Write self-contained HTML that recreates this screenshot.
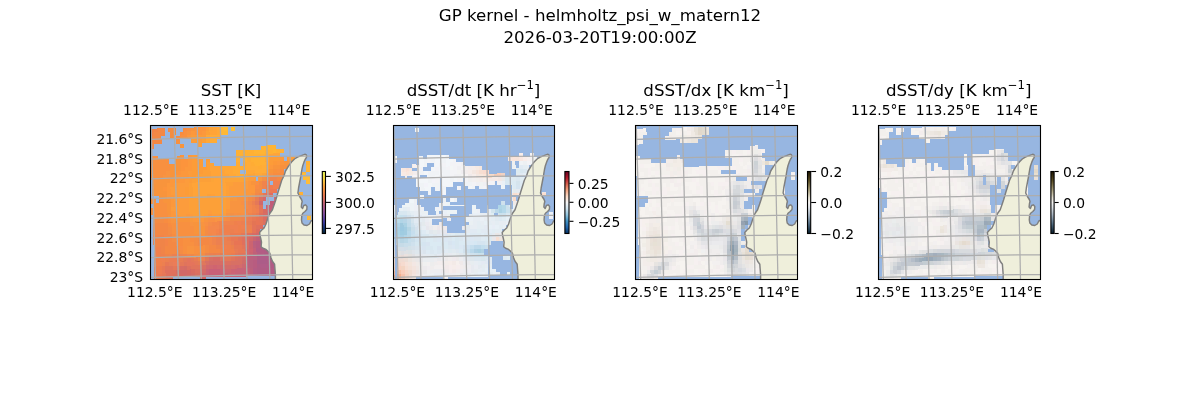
<!DOCTYPE html>
<html><head><meta charset="utf-8"><title>GP kernel - helmholtz_psi_w_matern12</title>
<style>html,body{margin:0;padding:0;background:#fff;overflow:hidden}svg{display:block}</style></head>
<body>
<svg width="1200" height="400" viewBox="0 0 1200 400" font-family="'DejaVu Sans','Liberation Sans',sans-serif" fill="#000">
<rect width="1200" height="400" fill="#fff"/>
<text x="600" y="20.8" font-size="16.67" text-anchor="middle" >GP kernel - helmholtz_psi_w_matern12</text>
<text x="600" y="42.5" font-size="16.67" text-anchor="middle" >2026-03-20T19:00:00Z</text>
<defs>
<clipPath id="c0"><rect x="150.5" y="125.5" width="162.0" height="154.0"/></clipPath>
<clipPath id="c1"><rect x="393.5" y="125.5" width="161.0" height="154.0"/></clipPath>
<clipPath id="c2"><rect x="635.5" y="125.5" width="162.0" height="154.0"/></clipPath>
<clipPath id="c3"><rect x="878.5" y="125.5" width="162.0" height="154.0"/></clipPath>
<linearGradient id="cb0" x1="0" y1="0" x2="0" y2="1"><stop offset="0" stop-color="#e8fa5b"/><stop offset="0.12" stop-color="#f9d441"/><stop offset="0.25" stop-color="#fb9d3c"/><stop offset="0.4" stop-color="#e7744f"/><stop offset="0.55" stop-color="#b45c82"/><stop offset="0.7" stop-color="#7a4d9f"/><stop offset="0.82" stop-color="#3e3a9e"/><stop offset="0.92" stop-color="#10316c"/><stop offset="1" stop-color="#042333"/></linearGradient><linearGradient id="cb1" x1="0" y1="0" x2="0" y2="1"><stop offset="0" stop-color="#67001f"/><stop offset="0.1" stop-color="#b2182b"/><stop offset="0.2" stop-color="#d6604d"/><stop offset="0.3" stop-color="#f4a582"/><stop offset="0.4" stop-color="#fddbc7"/><stop offset="0.5" stop-color="#f7f7f7"/><stop offset="0.6" stop-color="#d1e5f0"/><stop offset="0.7" stop-color="#92c5de"/><stop offset="0.8" stop-color="#4393c3"/><stop offset="0.9" stop-color="#2166ac"/><stop offset="1" stop-color="#053061"/></linearGradient><linearGradient id="cb2" x1="0" y1="0" x2="0" y2="1"><stop offset="0" stop-color="#1c1400"/><stop offset="0.15" stop-color="#5c4f25"/><stop offset="0.3" stop-color="#a89f7c"/><stop offset="0.42" stop-color="#e3dfd0"/><stop offset="0.5" stop-color="#f6f4f2"/><stop offset="0.58" stop-color="#dfe3e8"/><stop offset="0.7" stop-color="#a6b3c0"/><stop offset="0.85" stop-color="#4f6a80"/><stop offset="1" stop-color="#071d2c"/></linearGradient><linearGradient id="cb3" x1="0" y1="0" x2="0" y2="1"><stop offset="0" stop-color="#1c1400"/><stop offset="0.15" stop-color="#5c4f25"/><stop offset="0.3" stop-color="#a89f7c"/><stop offset="0.42" stop-color="#e3dfd0"/><stop offset="0.5" stop-color="#f6f4f2"/><stop offset="0.58" stop-color="#dfe3e8"/><stop offset="0.7" stop-color="#a6b3c0"/><stop offset="0.85" stop-color="#4f6a80"/><stop offset="1" stop-color="#071d2c"/></linearGradient>
</defs>
<g clip-path="url(#c0)">
<rect x="150.5" y="125.5" width="162.0" height="154.0" fill="#97b6e1"/>
<g shape-rendering="crispEdges"><path fill="#f8943c" d="M194 127h1v4h-1zM191 128h3v3h-3zM180 144h4v4h-4zM180 155h1v16h-1zM177 156h3v15h-3zM175 159h2v16h-2zM284 161h4v4h-4zM170 164h5v11h-5zM273 165h7v4h-7zM269 169h4v4h-4zM170 175h4v4h-4zM161 179h9v4h-9zM156 180h5v16h-5zM251 181h4v4h-4zM161 183h6v4h-6zM150 184h1v16h-1zM152 184h4v12h-4zM161 187h2v12h-2zM163 191h4v11h-4zM159 196h2v3h-2zM151 198h8v1h-8zM151 199h2v1h-2zM167 199h4v14h-4zM164 202h3v1h-3zM168 213h3v2h-3zM178 218h12v4h-12zM175 219h3v3h-3zM175 222h1v1h-1zM193 222h8v3h-8zM194 225h7v9h-7zM201 226h4v8h-4z"/><path fill="#fc943c" d="M195 127h2v8h-2zM198 127h8v4h-8zM198 131h4v4h-4zM181 155h3v16h-3zM184 159h4v8h-4zM280 161h4v4h-4zM184 167h1v4h-1zM177 171h4v4h-4zM163 187h4v4h-4z"/><path fill="#fc9c38" d="M206 127h3v4h-3zM191 135h6v8h-6zM198 135h8v4h-8zM198 139h4v4h-4zM198 143h1v4h-1zM192 155h6v20h-6zM269 157h11v4h-11zM198 159h5v15h-5zM206 159h4v3h-4zM269 161h4v4h-4zM206 162h1v8h-1zM203 167h3v3h-3zM198 174h2v1h-2zM192 175h4v4h-4zM189 179h3v4h-3zM185 187h4v8h-4zM222 213h1v4h-1zM219 214h3v3h-3zM219 217h1v1h-1z"/><path fill="#fca438" d="M209 127h4v4h-4zM210 163h4v3h-4zM266 165h3v4h-3zM253 173h2v4h-2zM262 173h4v4h-4zM247 174h6v3h-6zM247 177h2v1h-2zM211 178h3v4h-3zM225 178h19v4h-19z"/><path fill="#ffa438" d="M213 127h4v8h-4zM209 131h4v1h-4zM210 132h3v3h-3zM273 153h7v4h-7zM269 154h4v3h-4zM265 161h4v1h-4zM266 162h3v3h-3zM210 166h11v5h-11zM221 170h4v28h-4zM211 171h10v7h-10zM225 174h4v4h-4zM214 178h7v16h-7zM196 182h18v12h-18zM192 183h4v4h-4zM225 183h1v15h-1zM193 187h3v11h-3zM196 194h11v4h-11zM215 194h6v4h-6z"/><path fill="#ffa838" d="M217 127h3v8h-3zM206 135h4v8h-4zM268 157h1v4h-1zM265 158h3v3h-3zM221 166h11v4h-11zM232 168h1v10h-1zM225 170h7v4h-7zM247 170h8v3h-8zM247 173h6v1h-6zM255 173h7v4h-7zM229 174h3v4h-3zM233 174h3v4h-3zM244 174h3v4h-3z"/><path fill="#ffb838" d="M221 127h3v8h-3zM224 134h4v1h-4zM302 173h1v2h-1z"/><path fill="#ffbc34" d="M224 127h4v3h-4zM224 130h3v1h-3zM231 130h1v1h-1z"/><path fill="#ffc034" d="M231 127h4v3h-4zM232 130h3v1h-3z"/><path fill="#f48444" d="M157 128h1v4h-1zM154 129h3v3h-3z"/><path fill="#f48844" d="M158 128h7v8h-7zM168 128h1v4h-1zM154 132h4v12h-4zM151 136h3v13h-3zM158 136h3v8h-3zM161 139h1v5h-1zM277 177h4v4h-4zM150 223h1v12h-1zM153 223h15v12h-15zM170 234h2v20h-2zM168 235h2v19h-2zM207 237h2v8h-2zM198 238h9v7h-9zM172 242h4v12h-4zM198 245h5v1h-5zM209 245h7v8h-7zM165 246h3v8h-3zM176 246h3v4h-3zM216 249h4v4h-4z"/><path fill="#f48c40" d="M169 128h7v4h-7zM170 132h6v3h-6zM170 135h4v1h-4zM170 136h3v2h-3z"/><path fill="#f88c40" d="M183 128h4v3h-4zM183 131h1v4h-1zM180 132h3v3h-3zM180 135h1v1h-1zM173 136h1v2h-1zM176 136h4v3h-4zM176 139h3v1h-3zM280 169h4v8h-4zM273 173h7v4h-7zM284 173h4v4h-4zM150 215h1v4h-1zM164 219h4v4h-4zM168 223h3v4h-3zM171 225h1v2h-1zM172 234h3v4h-3zM175 237h1v1h-1zM176 238h7v4h-7zM190 238h4v4h-4zM179 242h4v4h-4z"/><path fill="#f89040" d="M187 128h4v3h-4zM184 131h3v8h-3zM181 135h3v4h-3zM180 136h1v3h-1zM187 137h1v2h-1zM179 139h1v5h-1zM176 140h3v4h-3zM152 156h6v24h-6zM151 159h1v21h-1zM158 159h11v12h-11zM169 164h1v7h-1zM150 165h1v15h-1zM284 165h4v4h-4zM277 169h3v4h-3zM287 169h4v4h-4zM158 171h8v4h-8zM288 173h4v8h-4zM158 175h5v4h-5zM158 179h3v1h-3zM153 199h3v5h-3zM159 199h4v20h-4zM150 200h3v4h-3zM163 202h1v17h-1zM156 203h3v16h-3zM164 203h3v16h-3zM150 204h1v11h-1zM154 204h2v15h-2zM151 208h3v7h-3zM167 213h1v6h-1zM237 213h4v4h-4zM153 215h1v4h-1zM168 219h3v4h-3zM176 222h14v16h-14zM171 223h5v2h-5zM172 225h4v9h-4zM190 226h4v12h-4zM175 234h1v3h-1zM194 234h11v4h-11zM183 238h7v8h-7zM190 242h4v4h-4zM203 245h2v8h-2zM183 246h4v8h-4zM194 246h9v7h-9zM194 253h4v1h-4z"/><path fill="#f08448" d="M151 129h3v3h-3zM150 239h1v4h-1zM153 239h12v4h-12zM154 243h11v4h-11zM216 245h4v4h-4zM161 247h4v7h-4zM165 254h4v4h-4z"/><path fill="#ffb834" d="M227 130h1v4h-1zM224 131h3v3h-3zM307 216h4v4h-4z"/><path fill="#f89440" d="M187 131h4v4h-4zM288 165h3v4h-3zM166 171h4v8h-4zM163 175h3v4h-3zM150 180h1v4h-1zM152 180h4v4h-4zM251 193h4v1h-4zM252 194h3v3h-3zM237 197h7v4h-7zM230 201h11v12h-11zM241 205h3v8h-3zM244 209h1v4h-1zM226 213h4v4h-4zM168 215h3v4h-3zM204 218h4v4h-4zM171 219h4v4h-4zM190 222h3v4h-3zM201 222h3v4h-3zM204 224h1v2h-1zM193 225h1v1h-1zM187 246h7v8h-7z"/><path fill="#fc983c" d="M191 131h4v4h-4zM202 131h4v4h-4zM187 135h4v2h-4zM188 137h3v2h-3zM188 155h4v16h-4zM280 157h4v4h-4zM287 158h1v3h-1zM277 161h3v4h-3zM269 165h4v4h-4zM185 167h3v12h-3zM181 171h4v12h-4zM188 174h1v5h-1zM174 175h7v8h-7zM170 179h4v8h-4zM248 181h3v16h-3zM167 183h3v16h-3zM251 185h4v8h-4zM170 189h1v10h-1zM244 189h4v8h-4zM251 194h1v3h-1zM171 195h3v12h-3zM174 201h1v6h-1zM226 209h4v4h-4zM171 211h4v8h-4zM186 214h4v4h-4zM208 214h4v4h-4zM175 215h4v3h-4zM175 218h3v1h-3zM193 218h11v4h-11z"/><path fill="#fca038" d="M206 131h3v4h-3zM209 132h1v3h-1zM202 139h4v4h-4zM199 143h3v4h-3zM207 162h3v20h-3zM266 169h3v4h-3zM203 170h4v12h-4zM210 171h1v11h-1zM200 174h3v8h-3zM196 175h4v7h-4zM192 179h4v4h-4zM225 182h8v1h-8zM189 183h3v29h-3zM226 183h7v3h-7zM192 187h1v27h-1zM226 190h3v8h-3zM207 194h4v16h-4zM229 196h1v2h-1zM193 198h14v16h-14zM211 198h15v13h-15zM207 210h1v4h-1zM212 211h14v2h-14zM190 212h2v2h-2zM212 213h10v1h-10zM193 214h11v4h-11z"/><path fill="#f48448" d="M151 132h3v4h-3zM150 235h1v4h-1zM153 235h11v4h-11zM164 237h1v2h-1zM165 239h3v7h-3z"/><path fill="#ffac38" d="M210 135h10v4h-10zM210 139h7v4h-7zM265 154h4v3h-4zM265 157h3v1h-3zM247 162h4v8h-4zM262 165h4v8h-4zM244 166h3v4h-3zM251 166h7v4h-7zM258 169h4v4h-4zM233 170h7v4h-7zM246 170h1v4h-1zM255 170h3v3h-3zM236 174h8v4h-8z"/><path fill="#ffb434" d="M266 145h10v5h-10zM261 146h5v4h-5zM276 149h2v1h-2zM254 150h11v4h-11zM273 150h3v3h-3zM306 165h4v7h-4zM303 172h3v1h-3z"/><path fill="#ffb034" d="M278 149h2v4h-2zM236 150h18v8h-18zM265 150h8v4h-8zM276 150h2v3h-2zM254 154h11v10h-11zM236 158h4v4h-4zM243 158h4v4h-4zM251 158h3v4h-3zM306 161h4v4h-4zM265 162h1v3h-1zM255 164h10v1h-10zM255 165h5v1h-5zM299 192h4v3h-4z"/><path fill="#ffb038" d="M280 149h4v4h-4z"/><path fill="#fc9c3c" d="M287 157h4v1h-4zM288 158h3v3h-3zM291 165h3v4h-3zM188 171h4v3h-4zM189 174h3v5h-3zM249 177h6v4h-6zM247 178h2v2h-2zM185 179h4v8h-4zM248 180h1v1h-1zM246 181h2v8h-2zM233 182h13v7h-13zM174 183h11v18h-11zM229 186h4v10h-4zM170 187h4v2h-4zM171 189h3v6h-3zM233 189h11v8h-11zM185 195h4v19h-4zM230 196h3v2h-3zM226 198h4v11h-4zM175 201h10v14h-10zM171 207h4v4h-4zM208 210h3v4h-3zM211 211h1v3h-1zM189 212h1v2h-1zM223 213h3v4h-3zM185 214h1v4h-1zM190 214h3v4h-3zM204 214h4v4h-4zM212 214h7v4h-7zM179 215h6v3h-6z"/><path fill="#fca03c" d="M291 157h4v8h-4zM292 177h2v4h-2zM244 178h3v3h-3zM247 180h1v1h-1zM244 181h2v1h-2z"/><path fill="#ffac34" d="M247 158h4v4h-4zM236 162h4v8h-4zM243 162h4v4h-4zM251 162h3v4h-3zM254 164h1v2h-1zM260 165h2v4h-2zM232 166h4v2h-4zM240 166h4v4h-4zM258 166h2v3h-2zM233 168h3v2h-3z"/><path fill="#fc9838" d="M273 161h4v4h-4z"/><path fill="#f8983c" d="M288 161h3v4h-3zM230 198h3v3h-3zM190 218h3v4h-3z"/><path fill="#f8903c" d="M280 165h4v4h-4zM273 169h4v4h-4z"/><path fill="#f89c3c" d="M291 169h3v4h-3zM292 173h2v4h-2z"/><path fill="#ffb438" d="M302 172h1v1h-1zM304 227h12v1h-12z"/><path fill="#f89840" d="M266 173h3v4h-3zM269 176h1v1h-1zM258 177h4v1h-4zM259 178h3v3h-3zM233 197h4v4h-4z"/><path fill="#f89044" d="M269 173h4v3h-4zM270 176h3v1h-3zM255 181h4v4h-4zM244 197h4v4h-4zM241 201h3v4h-3zM234 213h3v4h-3zM241 213h4v4h-4zM208 218h7v4h-7zM204 222h4v2h-4zM205 224h3v2h-3z"/><path fill="#ffbc38" d="M303 173h3v2h-3zM303 176h7v4h-7zM306 180h4v4h-4z"/><path fill="#f89c40" d="M255 177h1v4h-1zM258 178h1v3h-1z"/><path fill="#f49044" d="M262 177h4v4h-4zM230 213h4v4h-4zM223 217h3v4h-3z"/><path fill="#f48848" d="M266 177h4v4h-4zM255 193h4v4h-4zM245 209h3v4h-3zM217 221h2v4h-2zM212 222h5v3h-5zM212 225h3v1h-3zM210 233h2v12h-2zM208 234h2v3h-2zM164 235h4v2h-4zM165 237h3v2h-3zM209 237h1v8h-1z"/><path fill="#f0844c" d="M270 177h7v4h-7zM262 181h4v8h-4zM281 181h3v4h-3zM259 193h4v4h-4zM252 205h3v8h-3zM255 208h1v5h-1zM248 213h4v4h-4zM241 217h4v4h-4zM219 221h15v4h-15zM219 225h4v4h-4zM216 233h3v4h-3zM212 237h4v8h-4zM150 243h1v4h-1zM153 243h1v2h-1zM220 249h3v4h-3zM223 251h1v2h-1zM169 254h3v4h-3zM183 254h4v4h-4z"/><path fill="#f48c44" d="M281 177h7v4h-7zM259 181h3v12h-3zM255 189h4v4h-4zM248 197h4v4h-4zM150 219h1v4h-1zM153 219h11v4h-11zM168 227h4v7h-4zM205 230h3v7h-3zM168 234h2v1h-2zM205 237h2v1h-2zM172 238h4v4h-4zM194 238h4v8h-4zM176 242h3v4h-3zM205 245h4v8h-4zM180 250h3v4h-3zM202 253h3v4h-3zM194 254h4v3h-4zM194 257h2v1h-2z"/><path fill="#f08050" d="M266 181h4v4h-4zM273 181h8v8h-8zM281 185h3v4h-3zM256 209h3v4h-3zM237 221h4v2h-4zM238 223h3v2h-3zM230 225h8v4h-8zM241 225h4v4h-4zM234 229h4v4h-4zM219 233h11v4h-11zM220 245h7v4h-7zM161 258h4v3h-4zM162 261h3v1h-3z"/><path fill="#f48c48" d="M284 181h4v4h-4zM244 201h4v8h-4zM226 217h4v4h-4zM208 222h4v4h-4z"/><path fill="#f49444" d="M288 181h4v8h-4z"/><path fill="#fca43c" d="M292 181h2v16h-2z"/><path fill="#f88c44" d="M255 185h4v4h-4zM205 226h3v4h-3zM179 246h4v4h-4z"/><path fill="#ec7c50" d="M266 185h4v4h-4zM245 221h3v4h-3zM248 223h1v2h-1zM230 233h11v4h-11zM227 237h4v4h-4zM231 253h4v4h-4zM156 266h6v4h-6zM150 267h1v12h-1zM154 267h2v7h-2zM156 270h2v4h-2z"/><path fill="#f07c50" d="M270 185h3v4h-3z"/><path fill="#f0884c" d="M284 185h4v4h-4zM252 197h3v4h-3zM248 201h4v4h-4zM187 254h4v4h-4z"/><path fill="#ffa038" d="M226 186h3v4h-3zM211 194h4v4h-4z"/><path fill="#ec7c54" d="M266 189h4v4h-4zM280 189h4v4h-4zM284 190h1v3h-1zM248 217h4v4h-4zM169 258h11v4h-11zM158 270h4v4h-4zM154 274h4v5h-4z"/><path fill="#ec7854" d="M270 189h7v4h-7zM158 274h4v4h-4z"/><path fill="#ec8450" d="M284 189h4v1h-4zM285 190h3v3h-3zM180 254h3v4h-3z"/><path fill="#f49448" d="M288 189h4v4h-4z"/><path fill="#e47858" d="M263 193h3v4h-3zM255 201h4v4h-4zM241 233h4v4h-4zM235 253h3v4h-3zM224 257h7v4h-7zM183 258h4v4h-4zM191 258h3v4h-3zM194 261h4v2h-4zM180 262h4v4h-4zM195 263h3v2h-3zM173 266h3v4h-3zM162 274h4v5h-4z"/><path fill="#e07060" d="M266 193h4v4h-4zM278 193h3v4h-3z"/><path fill="#e06c60" d="M270 193h3v4h-3z"/><path fill="#e0785c" d="M281 193h4v4h-4zM285 197h3v4h-3zM202 261h3v4h-3zM205 263h1v2h-1z"/><path fill="#e88054" d="M285 193h3v4h-3z"/><path fill="#f09048" d="M288 193h4v4h-4z"/><path fill="#e87c54" d="M255 197h4v4h-4zM256 213h3v4h-3zM248 221h4v2h-4zM249 223h3v2h-3zM231 241h3v4h-3zM234 249h4v2h-4zM235 251h3v2h-3zM196 257h2v4h-2zM180 258h3v4h-3zM194 258h2v3h-2z"/><path fill="#dc7060" d="M259 197h4v4h-4zM263 221h4v4h-4zM249 233h3v4h-3zM235 257h3v4h-3zM224 261h7v4h-7zM187 266h4v3h-4zM187 269h3v1h-3zM195 269h7v4h-7z"/><path fill="#d4686c" d="M263 197h3v4h-3zM274 197h3v4h-3zM245 249h4v2h-4zM246 251h3v5h-3zM246 256h1v1h-1zM206 265h3v4h-3zM235 265h4v3h-4zM235 268h2v1h-2z"/><path fill="#d46868" d="M277 197h4v4h-4zM265 225h2v4h-2zM263 227h2v2h-2zM256 233h4v4h-4zM249 237h4v4h-4z"/><path fill="#d87064" d="M281 197h4v4h-4zM285 205h4v8h-4zM209 257h4v4h-4zM238 257h4v7h-4zM205 261h4v2h-4zM231 261h7v4h-7zM206 263h3v2h-3zM238 264h2v1h-2zM202 265h4v4h-4zM198 273h4v3h-4zM199 276h3v1h-3z"/><path fill="#ec8c4c" d="M288 197h4v4h-4z"/><path fill="#f8a040" d="M292 197h2v4h-2z"/><path fill="#ec8050" d="M252 201h3v4h-3zM255 205h4v3h-4zM256 208h3v1h-3zM252 213h4v4h-4zM245 217h3v4h-3zM241 221h4v4h-4zM245 225h7v4h-7zM230 229h4v4h-4zM241 229h8v4h-8zM216 237h11v8h-11zM227 241h4v4h-4zM209 253h4v4h-4zM216 253h4v4h-4zM224 253h3v4h-3zM172 254h8v4h-8zM202 257h3v4h-3zM165 258h4v4h-4zM162 262h3v4h-3zM150 263h1v4h-1z"/><path fill="#d0686c" d="M259 201h4v4h-4zM281 201h4v16h-4zM267 217h3v4h-3zM278 217h3v7h-3zM270 221h8v1h-8zM271 222h7v6h-7zM281 222h1v2h-1zM278 224h1v1h-1zM271 228h3v1h-3zM278 228h4v4h-4zM220 265h4v4h-4zM202 273h4v6h-4z"/><path fill="#c05c78" d="M270 201h4v4h-4z"/><path fill="#c46078" d="M274 201h3v8h-3zM277 206h1v3h-1zM270 209h4v4h-4zM253 248h3v4h-3zM246 268h4v4h-4z"/><path fill="#c86470" d="M277 201h4v4h-4zM271 232h7v4h-7zM253 237h3v4h-3z"/><path fill="#dc7460" d="M285 201h3v4h-3zM220 257h4v4h-4z"/><path fill="#e88854" d="M288 201h4v4h-4z"/><path fill="#f49c44" d="M292 201h2v4h-2z"/><path fill="#f4884c" d="M248 205h4v8h-4zM245 213h3v4h-3zM215 225h4v4h-4zM208 226h7v7h-7zM215 229h1v8h-1zM208 233h2v1h-2zM212 233h3v4h-3z"/><path fill="#e0745c" d="M259 205h4v4h-4zM242 253h4v4h-4zM231 257h4v4h-4zM184 262h3v4h-3zM192 265h10v4h-10zM165 266h8v4h-8zM191 266h1v3h-1zM166 278h3v1h-3z"/><path fill="#c86074" d="M266 205h4v2h-4zM277 205h4v1h-4zM278 206h3v3h-3zM267 207h3v10h-3zM274 209h4v8h-4zM270 213h4v4h-4z"/><path fill="#c45c78" d="M270 205h4v4h-4z"/><path fill="#e48458" d="M289 205h3v4h-3zM289 213h3v3h-3zM289 216h2v1h-2zM289 220h3v4h-3zM292 221h1v3h-1z"/><path fill="#f09848" d="M292 205h4v8h-4z"/><path fill="#f8a440" d="M296 205h4v4h-4z"/><path fill="#cc6470" d="M266 207h1v2h-1zM278 213h3v4h-3zM270 217h8v4h-8zM267 229h4v3h-4zM267 232h2v1h-2zM260 233h3v4h-3zM249 241h4v8h-4zM250 252h3v4h-3zM249 253h1v3h-1zM224 273h4v4h-4z"/><path fill="#e47458" d="M259 209h4v4h-4zM259 217h4v5h-4zM260 222h3v3h-3zM252 225h4v8h-4zM238 237h4v4h-4zM242 245h3v4h-3zM238 253h4v4h-4z"/><path fill="#d86c60" d="M263 209h4v4h-4zM191 269h4v4h-4zM176 270h4v4h-4zM177 274h3v3h-3z"/><path fill="#c86474" d="M278 209h3v4h-3zM282 236h3v4h-3zM285 237h1v3h-1z"/><path fill="#e08458" d="M289 209h3v4h-3zM304 240h4v4h-4z"/><path fill="#f8a83c" d="M296 209h4v3h-4zM296 212h2v1h-2z"/><path fill="#fcb03c" d="M298 212h2v8h-2zM296 213h2v7h-2zM300 227h4v1h-4zM307 228h9v4h-9z"/><path fill="#e0705c" d="M259 213h4v4h-4zM256 225h4v4h-4zM245 233h4v4h-4zM242 237h3v8h-3zM165 270h11v3h-11zM166 273h10v1h-10zM166 274h7v4h-7zM169 278h4v1h-4z"/><path fill="#d86c64" d="M263 213h4v4h-4zM252 233h4v4h-4zM245 237h4v4h-4zM245 245h4v4h-4zM213 257h7v4h-7zM220 261h4v4h-4zM180 266h4v4h-4zM200 277h2v2h-2z"/><path fill="#d87464" d="M285 213h4v7h-4zM285 224h4v4h-4z"/><path fill="#f09c48" d="M292 213h4v3h-4zM292 220h4v1h-4zM293 221h3v3h-3zM296 228h4v4h-4zM311 236h5v4h-5z"/><path fill="#e48858" d="M291 216h1v4h-1zM289 217h2v3h-2z"/><path fill="#f0a044" d="M292 216h4v4h-4z"/><path fill="#f89444" d="M220 217h3v4h-3zM215 218h5v3h-5zM215 221h2v1h-2z"/><path fill="#f08848" d="M230 217h11v4h-11zM176 250h4v4h-4zM191 254h3v4h-3z"/><path fill="#e87854" d="M252 217h4v4h-4zM231 237h7v4h-7zM234 245h8v4h-8zM238 249h7v4h-7zM245 251h1v2h-1zM165 262h4v4h-4zM162 266h3v4h-3zM158 278h4v1h-4z"/><path fill="#e87454" d="M256 217h3v8h-3zM259 222h1v3h-1zM234 241h8v4h-8z"/><path fill="#dc6c60" d="M263 217h4v4h-4zM260 225h3v4h-3zM256 229h4v4h-4zM245 241h4v4h-4z"/><path fill="#d06c68" d="M281 217h4v4h-4zM243 260h3v4h-3zM242 261h1v3h-1z"/><path fill="#d87460" d="M285 220h4v4h-4z"/><path fill="#fcac3c" d="M296 220h4v4h-4zM304 228h3v4h-3z"/><path fill="#f0804c" d="M234 221h3v4h-3zM237 223h1v2h-1zM223 225h7v8h-7zM238 225h3v8h-3zM219 229h4v4h-4zM249 229h3v4h-3zM227 245h4v8h-4zM150 247h1v16h-1zM154 247h7v19h-7zM223 249h4v2h-4zM231 249h3v4h-3zM224 251h3v2h-3zM234 251h1v2h-1zM161 254h4v4h-4zM161 261h1v5h-1zM154 266h2v1h-2z"/><path fill="#e47454" d="M252 221h4v4h-4z"/><path fill="#d46c64" d="M267 221h3v4h-3zM270 222h1v3h-1zM184 266h3v4h-3zM191 273h4v4h-4z"/><path fill="#d46c68" d="M281 221h4v1h-4zM282 222h3v6h-3zM242 257h4v3h-4zM242 260h1v1h-1zM209 261h11v4h-11zM224 265h7v4h-7zM202 269h4v4h-4z"/><path fill="#d06868" d="M279 224h3v4h-3zM267 225h4v4h-4zM278 225h1v3h-1zM180 270h7v4h-7zM184 274h3v3h-3zM187 275h1v2h-1z"/><path fill="#e08058" d="M289 224h4v4h-4z"/><path fill="#ec944c" d="M293 224h3v4h-3z"/><path fill="#f8a840" d="M296 224h4v4h-4zM300 228h4v4h-4zM311 232h5v4h-5z"/><path fill="#cc686c" d="M274 228h4v4h-4zM282 232h3v4h-3z"/><path fill="#d06c6c" d="M282 228h3v4h-3zM285 232h4v4h-4z"/><path fill="#d47064" d="M285 228h4v4h-4z"/><path fill="#dc7c60" d="M289 228h4v4h-4z"/><path fill="#e48c54" d="M293 228h3v4h-3zM296 232h4v4h-4zM300 236h4v4h-4zM308 240h3v4h-3z"/><path fill="#f4844c" d="M216 229h3v4h-3z"/><path fill="#cc6070" d="M263 229h4v7h-4zM263 236h2v1h-2z"/><path fill="#cc646c" d="M271 229h3v3h-3z"/><path fill="#d0646c" d="M260 231h3v2h-3z"/><path fill="#c86070" d="M269 232h2v4h-2zM267 233h2v3h-2z"/><path fill="#c86870" d="M278 232h4v4h-4zM308 264h4v4h-4zM312 272h4v4h-4z"/><path fill="#d47464" d="M289 232h4v4h-4z"/><path fill="#dc805c" d="M293 232h3v4h-3zM296 236h4v1h-4zM297 237h3v3h-3zM308 244h3v4h-3zM315 248h1v4h-1z"/><path fill="#ec984c" d="M300 232h4v4h-4zM307 236h4v1h-4zM308 237h3v3h-3z"/><path fill="#f4a044" d="M304 232h3v4h-3z"/><path fill="#f4a440" d="M307 232h4v4h-4z"/><path fill="#bc607c" d="M265 236h2v4h-2zM260 237h5v3h-5zM260 240h1v1h-1zM275 240h3v4h-3zM282 244h4v4h-4zM253 245h3v3h-3zM286 252h3v4h-3zM289 253h1v3h-1zM249 256h4v4h-4zM290 256h3v4h-3zM246 264h3v4h-3zM293 264h4v5h-4zM249 266h1v2h-1zM250 268h3v8h-3zM294 269h3v3h-3z"/><path fill="#c06078" d="M267 236h7v4h-7zM256 237h4v4h-4zM274 237h1v3h-1zM278 240h4v4h-4zM253 252h4v4h-4zM247 256h2v4h-2zM246 257h1v3h-1z"/><path fill="#c46478" d="M274 236h4v1h-4zM275 237h3v3h-3zM246 272h4v4h-4z"/><path fill="#c46474" d="M278 236h4v4h-4z"/><path fill="#cc6870" d="M285 236h4v1h-4zM286 237h3v3h-3zM242 264h4v4h-4z"/><path fill="#d0706c" d="M289 236h4v4h-4zM315 260h1v4h-1z"/><path fill="#d47864" d="M293 236h3v4h-3zM296 237h1v3h-1zM297 240h3v4h-3zM308 248h3v4h-3zM311 252h5v2h-5zM312 254h4v2h-4z"/><path fill="#e89450" d="M304 236h3v4h-3zM307 237h1v3h-1z"/><path fill="#b05c84" d="M261 240h3v4h-3zM260 241h1v3h-1zM264 248h11v8h-11zM257 256h3v4h-3zM268 256h11v12h-11zM257 264h3v12h-3zM279 264h3v4h-3zM260 267h1v9h-1zM261 268h7v8h-7z"/><path fill="#b45c84" d="M264 240h3v8h-3zM260 244h4v12h-4zM267 244h8v4h-8zM256 248h4v4h-4zM275 248h3v8h-3zM278 253h1v3h-1zM279 256h3v8h-3zM282 260h4v12h-4zM253 268h4v8h-4zM268 268h14v8h-14zM282 272h1v4h-1z"/><path fill="#b85c80" d="M267 240h4v4h-4zM256 241h4v7h-4zM257 252h3v4h-3zM253 260h4v8h-4z"/><path fill="#b86080" d="M271 240h4v4h-4zM253 241h3v4h-3zM275 244h3v4h-3zM278 248h4v4h-4zM282 252h4v4h-4zM253 256h4v4h-4zM286 256h4v8h-4zM249 260h4v6h-4zM290 260h3v16h-3zM250 266h3v2h-3zM293 269h1v7h-1z"/><path fill="#c06478" d="M282 240h4v4h-4zM286 244h3v4h-3zM289 248h4v4h-4zM293 252h4v4h-4zM297 256h4v8h-4zM301 264h3v12h-3zM304 270h1v6h-1zM305 272h3v4h-3z"/><path fill="#c46874" d="M286 240h3v4h-3zM289 244h4v4h-4zM293 248h4v4h-4zM297 252h3v4h-3zM300 254h1v2h-1zM301 256h3v8h-3zM304 260h4v10h-4zM308 268h4v8h-4zM305 270h3v2h-3z"/><path fill="#c86c70" d="M289 240h4v4h-4zM293 244h4v4h-4zM297 248h3v4h-3zM300 252h4v2h-4zM301 254h3v2h-3zM304 256h4v4h-4zM308 260h4v4h-4zM312 264h3v8h-3zM315 271h1v1h-1z"/><path fill="#cc706c" d="M293 240h4v4h-4zM297 244h3v4h-3zM300 248h4v4h-4zM304 252h4v4h-4zM308 256h4v4h-4zM312 260h3v4h-3zM315 264h1v4h-1z"/><path fill="#d88060" d="M300 240h4v4h-4z"/><path fill="#e49054" d="M311 240h4v4h-4z"/><path fill="#e89050" d="M315 240h1v4h-1z"/><path fill="#b8607c" d="M278 244h4v4h-4zM282 248h4v4h-4zM294 272h3v4h-3z"/><path fill="#d47468" d="M300 244h4v4h-4z"/><path fill="#d87c60" d="M304 244h4v4h-4zM311 248h4v4h-4z"/><path fill="#e0845c" d="M311 244h4v4h-4z"/><path fill="#e08858" d="M315 244h1v4h-1z"/><path fill="#ec804c" d="M231 245h3v4h-3zM213 253h3v4h-3zM227 253h4v4h-4z"/><path fill="#bc647c" d="M286 248h3v4h-3zM289 252h4v1h-4zM290 253h3v3h-3zM293 260h4v4h-4zM297 268h4v8h-4z"/><path fill="#d07468" d="M304 248h4v4h-4zM308 252h3v4h-3zM311 254h1v2h-1zM315 256h1v4h-1z"/><path fill="#d06470" d="M249 249h4v3h-4zM249 252h1v1h-1zM213 265h4v4h-4z"/><path fill="#b45c80" d="M278 252h4v1h-4zM279 253h3v3h-3z"/><path fill="#f49040" d="M198 253h4v4h-4z"/><path fill="#ec844c" d="M205 253h4v4h-4zM198 257h4v4h-4z"/><path fill="#e87c50" d="M220 253h4v4h-4z"/><path fill="#b05c88" d="M260 256h8v4h-8zM260 264h8v3h-8zM261 267h7v1h-7z"/><path fill="#b46080" d="M282 256h4v4h-4zM286 264h4v12h-4z"/><path fill="#bc6478" d="M293 256h4v4h-4zM297 264h4v4h-4z"/><path fill="#d07068" d="M312 256h3v4h-3z"/><path fill="#e07858" d="M205 257h4v4h-4z"/><path fill="#e4745c" d="M187 258h4v8h-4zM191 262h3v3h-3zM194 263h1v2h-1zM191 265h1v1h-1zM176 266h4v4h-4z"/><path fill="#bc6080" d="M246 260h3v4h-3z"/><path fill="#ac5c88" d="M257 260h11v4h-11z"/><path fill="#e47c54" d="M198 261h4v4h-4z"/><path fill="#e87c58" d="M169 262h4v4h-4z"/><path fill="#ec7c58" d="M173 262h7v4h-7z"/><path fill="#d46c6c" d="M240 264h2v4h-2zM231 265h4v4h-4zM239 265h1v3h-1z"/><path fill="#d06870" d="M209 265h4v4h-4zM217 265h3v4h-3zM224 269h7v4h-7z"/><path fill="#c86478" d="M237 268h9v9h-9zM235 269h2v8h-2zM220 273h4v4h-4z"/><path fill="#cc6c70" d="M315 268h1v3h-1z"/><path fill="#d46864" d="M190 269h1v8h-1zM187 270h3v5h-3zM180 274h4v3h-4zM188 275h2v2h-2z"/><path fill="#cc6474" d="M206 269h3v8h-3zM220 269h4v4h-4zM231 269h4v3h-4zM231 272h3v1h-3zM209 276h1v1h-1z"/><path fill="#c86078" d="M209 269h11v7h-11zM210 276h10v1h-10z"/><path fill="#e87858" d="M162 270h3v4h-3zM165 273h1v1h-1z"/><path fill="#cc6478" d="M234 272h1v5h-1zM231 273h3v4h-3z"/><path fill="#b46084" d="M283 272h3v4h-3z"/><path fill="#d87060" d="M195 273h3v4h-3zM198 276h1v1h-1z"/><path fill="#cc6874" d="M228 273h3v4h-3z"/><path fill="#dc705c" d="M173 274h4v3h-4z"/></g>
<path d="M304.80,154.30 L302.00,155.40 L297.50,157.10 L294.50,159.00 L291.50,162.00 L288.50,166.10 L285.50,171.00 L284.00,175.75 L281.75,180.25 L279.90,186.25 L278.00,192.25 L276.50,197.50 L275.75,200.00 L274.25,204.50 L272.40,209.75 L269.75,213.50 L267.90,218.00 L266.00,224.00 L264.10,228.00 L261.50,230.25 L259.60,232.50 L260.00,235.50 L260.75,238.50 L261.50,242.25 L261.10,246.75 L263.00,248.25 L266.00,249.40 L268.25,251.60 L269.75,253.00 L270.90,257.50 L272.40,261.25 L274.60,264.25 L275.00,269.50 L275.40,274.75 L275.40,282.00 L316.00,282.00 L316.00,219.00 L311.00,221.00 L309.50,224.00 L307.00,225.50 L304.00,225.00 L302.00,223.00 L301.50,220.00 L301.80,215.50 L302.80,213.20 L305.00,211.50 L306.80,209.50 L307.00,206.50 L305.50,204.80 L303.80,205.50 L302.60,208.60 L301.30,207.00 L301.60,204.00 L302.20,201.50 L301.50,199.50 L299.75,196.75 L297.90,193.00 L298.60,187.75 L299.75,181.75 L300.90,175.75 L301.25,173.25 L301.90,169.50 L302.75,165.75 L303.90,162.40 L305.00,159.75 L306.30,157.60 L306.70,156.00 L306.20,154.80Z" fill="#efefdb" stroke="#7f7f7f" stroke-width="1.45" stroke-linejoin="round"/>
<g stroke="#adadad" stroke-width="1.25"><line x1="151.10" y1="125.5" x2="155.50" y2="279.5"/><line x1="174.17" y1="125.5" x2="178.37" y2="279.5"/><line x1="197.24" y1="125.5" x2="201.24" y2="279.5"/><line x1="220.31" y1="125.5" x2="224.11" y2="279.5"/><line x1="243.38" y1="125.5" x2="246.98" y2="279.5"/><line x1="266.45" y1="125.5" x2="269.85" y2="279.5"/><line x1="289.52" y1="125.5" x2="292.72" y2="279.5"/><line x1="312.59" y1="125.5" x2="315.59" y2="279.5"/><polyline fill="none" points="151.0,119.56 171.0,118.95 191.0,118.42 211.0,117.95 231.0,117.55 251.0,117.22 271.0,116.96 291.0,116.77 311.0,116.64 331.0,116.59"/><polyline fill="none" points="151.0,139.30 171.0,138.69 191.0,138.16 211.0,137.69 231.0,137.29 251.0,136.96 271.0,136.70 291.0,136.51 311.0,136.38 331.0,136.33"/><polyline fill="none" points="151.0,159.04 171.0,158.43 191.0,157.90 211.0,157.43 231.0,157.03 251.0,156.70 271.0,156.44 291.0,156.25 311.0,156.12 331.0,156.07"/><polyline fill="none" points="151.0,178.78 171.0,178.17 191.0,177.64 211.0,177.17 231.0,176.77 251.0,176.44 271.0,176.18 291.0,175.99 311.0,175.86 331.0,175.81"/><polyline fill="none" points="151.0,198.52 171.0,197.91 191.0,197.38 211.0,196.91 231.0,196.51 251.0,196.18 271.0,195.92 291.0,195.73 311.0,195.60 331.0,195.55"/><polyline fill="none" points="151.0,218.26 171.0,217.65 191.0,217.12 211.0,216.65 231.0,216.25 251.0,215.92 271.0,215.66 291.0,215.47 311.0,215.34 331.0,215.29"/><polyline fill="none" points="151.0,238.00 171.0,237.39 191.0,236.86 211.0,236.39 231.0,235.99 251.0,235.66 271.0,235.40 291.0,235.21 311.0,235.08 331.0,235.03"/><polyline fill="none" points="151.0,257.74 171.0,257.13 191.0,256.60 211.0,256.13 231.0,255.73 251.0,255.40 271.0,255.14 291.0,254.95 311.0,254.82 331.0,254.77"/><polyline fill="none" points="151.0,277.48 171.0,276.87 191.0,276.34 211.0,275.87 231.0,275.47 251.0,275.14 271.0,274.88 291.0,274.69 311.0,274.56 331.0,274.51"/></g>
</g>
<rect x="150.5" y="125.5" width="162.0" height="154.0" fill="none" stroke="#000" stroke-width="1.1"/>
<text x="230.9" y="96" font-size="16.67" text-anchor="middle" >SST [K]</text>
<text x="150.8" y="115" font-size="13.89" text-anchor="middle" >112.5°E</text>
<text x="154.8" y="297" font-size="13.89" text-anchor="middle" >112.5°E</text>
<text x="220.2" y="115" font-size="13.89" text-anchor="middle" >113.25°E</text>
<text x="224.2" y="297" font-size="13.89" text-anchor="middle" >113.25°E</text>
<text x="289.2" y="115" font-size="13.89" text-anchor="middle" >114°E</text>
<text x="293.2" y="297" font-size="13.89" text-anchor="middle" >114°E</text>
<text x="143.1" y="144.0" font-size="13.89" text-anchor="end" >21.6°S</text>
<text x="143.1" y="163.74" font-size="13.89" text-anchor="end" >21.8°S</text>
<text x="143.1" y="183.48" font-size="13.89" text-anchor="end" >22°S</text>
<text x="143.1" y="203.22" font-size="13.89" text-anchor="end" >22.2°S</text>
<text x="143.1" y="222.95999999999998" font-size="13.89" text-anchor="end" >22.4°S</text>
<text x="143.1" y="242.7" font-size="13.89" text-anchor="end" >22.6°S</text>
<text x="143.1" y="262.44" font-size="13.89" text-anchor="end" >22.8°S</text>
<text x="143.1" y="282.17999999999995" font-size="13.89" text-anchor="end" >23°S</text>
<rect x="322.30" y="171.5" width="3.2" height="62.0" fill="url(#cb0)" stroke="#000" stroke-width="1.1"/>
<line x1="326.00" y1="176.4" x2="330.86" y2="176.4" stroke="#000" stroke-width="1.1"/>
<text x="335.1" y="181.8" font-size="13.89" text-anchor="start" >302.5</text>
<line x1="326.00" y1="202.4" x2="330.86" y2="202.4" stroke="#000" stroke-width="1.1"/>
<text x="335.1" y="207.8" font-size="13.89" text-anchor="start" >300.0</text>
<line x1="326.00" y1="228.4" x2="330.86" y2="228.4" stroke="#000" stroke-width="1.1"/>
<text x="335.1" y="233.8" font-size="13.89" text-anchor="start" >297.5</text>
<g clip-path="url(#c1)">
<rect x="393.5" y="125.5" width="162.0" height="154.0" fill="#97b6e1"/>
<g shape-rendering="crispEdges"><path fill="#f3f6f9" d="M414.6 128h1v4h-1zM426.6 155h19v4h-19zM418.6 156h1v3h-1zM419.6 159h4v8h-4zM434.6 159h7v4h-7zM445.6 159h7v3h-7zM530.6 161h3v4h-3zM445.6 162h4v4h-4zM434.6 163h4v4h-4zM445.6 166h2v1h-2zM430.6 167h4v4h-4zM438.6 167h3v8h-3zM423.6 171h4v4h-4zM441.6 173h1v2h-1zM426.6 175h1v8h-1zM434.6 175h4v4h-4zM420.6 178h6v5h-6zM442.6 178h7v8h-7zM453.6 178h3v4h-3zM415.6 179h5v4h-5zM449.6 182h3v4h-3zM415.6 183h1v4h-1zM427.6 183h4v4h-4zM530.6 185h2v4h-2zM446.6 186h3v1h-3zM456.6 186h1v4h-1zM468.6 186h3v3h-3zM419.6 187h1v4h-1zM423.6 187h7v1h-7zM424.6 188h6v3h-6zM435.6 190h3v1h-3zM442.6 190h3v4h-3zM441.6 194h1v1h-1zM450.6 198h3v4h-3zM527.6 201h3v4h-3z"/><path fill="#f0f3f6" d="M415.6 128h3v4h-3zM445.6 155h3v4h-3zM419.6 156h3v3h-3zM418.6 159h1v4h-1zM423.6 159h3v8h-3zM430.6 159h4v4h-4zM441.6 159h4v4h-4zM519.6 161h3v4h-3zM433.6 163h1v4h-1zM441.6 167h4v6h-4zM445.6 170h4v8h-4zM419.6 171h4v4h-4zM427.6 171h11v4h-11zM442.6 173h3v5h-3zM427.6 175h7v4h-7zM438.6 175h4v3h-4zM438.6 178h1v12h-1zM441.6 178h1v12h-1zM449.6 178h4v4h-4zM427.6 179h4v4h-4zM530.6 181h2v4h-2zM464.6 182h7v4h-7zM416.6 183h7v4h-7zM431.6 183h7v4h-7zM500.6 185h1v4h-1zM442.6 186h4v1h-4zM449.6 186h3v1h-3zM467.6 186h1v3h-1zM471.6 186h3v3h-3zM478.6 186h4v3h-4zM420.6 187h3v4h-3zM434.6 187h4v3h-4zM442.6 187h3v3h-3zM423.6 188h1v3h-1zM530.6 189h2v4h-2zM434.6 190h1v1h-1zM427.6 191h3v4h-3zM527.6 193h3v2h-3zM419.6 195h4v4h-4zM449.6 198h1v4h-1zM519.6 201h4v4h-4zM530.6 201h2v4h-2zM442.6 202h4v4h-4zM457.6 205h7v1h-7zM531.6 205h7v4h-7zM548.6 212h1v4h-1zM538.6 216h4v4h-4zM557.6 227h1v1h-1z"/><path fill="#f9edea" d="M518.6 153h4v4h-4zM522.6 157h4v4h-4zM400.6 168h1v4h-1z"/><path fill="#f3f3f6" d="M529.6 153h4v4h-4zM426.6 159h4v4h-4zM452.6 159h3v15h-3zM394.6 160h2v3h-2zM526.6 161h4v4h-4zM533.6 161h4v4h-4zM449.6 162h3v4h-3zM455.6 162h5v4h-5zM438.6 163h7v4h-7zM447.6 166h2v4h-2zM455.6 166h1v8h-1zM419.6 167h3v4h-3zM434.6 167h4v4h-4zM445.6 167h2v3h-2zM449.6 170h3v8h-3zM452.6 174h1v4h-1zM456.6 178h6v4h-6zM464.6 178h3v4h-3zM434.6 179h4v4h-4zM488.6 181h5v4h-5zM471.6 182h4v4h-4zM486.6 182h2v3h-2zM485.6 185h1v4h-1zM457.6 186h3v4h-3zM482.6 186h3v3h-3z"/><path fill="#f0f3f3" d="M394.6 156h2v4h-2zM533.6 157h3v4h-3zM479.6 182h3v4h-3z"/><path fill="#f6edea" d="M507.6 157h3v1h-3zM471.6 166h3v4h-3zM474.6 168h1v2h-1zM467.6 170h4v4h-4zM471.6 174h4v4h-4zM486.6 178h3v3h-3zM489.6 180h1v1h-1zM486.6 181h2v1h-2zM447.6 261h4v2h-4zM448.6 263h3v2h-3zM451.6 265h4v4h-4z"/><path fill="#f6e7e1" d="M510.6 157h1v4h-1zM507.6 158h3v3h-3z"/><path fill="#f9e4db" d="M511.6 157h4v4h-4z"/><path fill="#f6e4db" d="M515.6 157h3v4h-3zM518.6 160h1v1h-1zM475.6 170h3v4h-3z"/><path fill="#f9e7e1" d="M518.6 157h4v3h-4zM519.6 160h3v1h-3z"/><path fill="#f6f0f0" d="M526.6 157h3v4h-3zM529.6 158h1v3h-1zM412.6 164h3v3h-3zM415.6 165h1v2h-1zM440.6 265h4v4h-4z"/><path fill="#f3f3f3" d="M529.6 157h4v1h-4zM530.6 158h3v3h-3zM463.6 165h1v1h-1zM460.6 166h3v4h-3zM416.6 167h3v8h-3zM456.6 170h4v4h-4zM460.6 174h4v4h-4z"/><path fill="#f0f0f0" d="M511.6 161h3v4h-3zM418.6 163h1v4h-1zM416.6 165h2v2h-2zM467.6 178h4v4h-4zM422.6 262h4v4h-4zM426.6 270h3v4h-3zM455.6 273h4v4h-4z"/><path fill="#f0f0f3" d="M518.6 161h1v4h-1zM460.6 162h2v4h-2zM462.6 165h1v1h-1zM456.6 166h4v4h-4zM453.6 174h7v4h-7zM416.6 175h3v4h-3zM419.6 178h1v1h-1zM493.6 181h1v4h-1zM496.6 181h5v4h-5zM475.6 182h4v4h-4zM482.6 182h4v3h-4zM482.6 185h3v1h-3z"/><path fill="#edf0f3" d="M522.6 161h4v4h-4zM511.6 165h4v4h-4zM526.6 177h6v4h-6zM526.6 185h4v4h-4zM523.6 193h4v2h-4zM442.6 198h3v4h-3zM408.6 199h1v4h-1zM413.6 199h3v4h-3zM516.6 201h3v4h-3zM438.6 203h1v3h-1zM428.6 218h7v1h-7zM428.6 219h3v3h-3zM557.6 228h1v4h-1zM430.6 273h3v4h-3zM426.6 274h4v3h-4zM442.6 277h2v2h-2z"/><path fill="#f6ede7" d="M411.6 164h1v3h-1z"/><path fill="#e4edf3" d="M518.6 165h1v4h-1zM522.6 165h4v4h-4zM515.6 168h3v1h-3zM526.6 169h2v4h-2zM523.6 185h3v4h-3zM519.6 189h4v4h-4zM486.6 205h1v4h-1zM402.6 207h4v4h-4zM409.6 211h4v2h-4zM410.6 213h3v2h-3zM487.6 213h3v4h-3zM490.6 217h4v4h-4zM420.6 218h1v4h-1zM417.6 219h3v3h-3zM476.6 221h3v8h-3zM487.6 221h3v4h-3zM494.6 221h4v4h-4zM417.6 222h1v1h-1zM479.6 223h1v6h-1zM490.6 223h1v2h-1zM480.6 225h3v4h-3zM498.6 225h4v4h-4zM494.6 229h7v4h-7zM504.6 229h5v4h-5zM425.6 230h3v4h-3zM501.6 231h3v2h-3zM516.6 232h4v5h-4zM517.6 237h3v3h-3zM477.6 261h3v4h-3zM488.6 264h3v4h-3zM481.6 268h3v4h-3zM488.6 272h4v3h-4z"/><path fill="#e1eaf3" d="M519.6 165h3v4h-3zM519.6 173h3v3h-3zM522.6 175h1v1h-1zM392.6 211h2v4h-2zM413.6 219h4v4h-4zM469.6 229h7v4h-7zM480.6 229h7v4h-7zM505.6 233h4v4h-4zM436.6 234h7v4h-7zM506.6 237h3v3h-3zM503.6 240h3v4h-3zM513.6 240h4v4h-4zM520.6 240h4v4h-4zM502.6 241h1v3h-1zM443.6 249h4v1h-4zM444.6 250h3v3h-3zM485.6 260h2v4h-2zM488.6 260h3v4h-3zM484.6 261h1v3h-1z"/><path fill="#e7edf3" d="M526.6 165h2v4h-2zM523.6 177h3v4h-3zM406.6 207h3v4h-3zM413.6 211h4v4h-4zM471.6 213h1v4h-1zM479.6 213h8v4h-8zM468.6 214h3v3h-3zM472.6 217h7v4h-7zM483.6 217h7v4h-7zM472.6 221h4v8h-4zM479.6 221h4v2h-4zM490.6 221h4v2h-4zM498.6 221h7v4h-7zM509.6 221h3v4h-3zM512.6 222h1v3h-1zM480.6 223h3v2h-3zM491.6 223h3v2h-3zM521.6 224h3v12h-3zM469.6 225h3v4h-3zM520.6 225h1v11h-1zM421.6 226h4v4h-4zM527.6 228h4v8h-4zM531.6 232h4v8h-4zM538.6 232h4v4h-4zM535.6 240h4v5h-4zM550.6 240h3v4h-3zM531.6 244h4v1h-4zM542.6 244h4v1h-4zM473.6 261h4v4h-4zM484.6 264h3v4h-3zM479.6 268h2v4h-2zM477.6 269h2v3h-2zM476.6 272h1v4h-1zM484.6 272h3v5h-3zM495.6 272h4v3h-4zM473.6 273h3v3h-3z"/><path fill="#f3f6f6" d="M449.6 166h3v4h-3z"/><path fill="#f3f0f0" d="M463.6 166h4v4h-4zM408.6 175h4v1h-4zM411.6 176h1v2h-1zM471.6 178h4v4h-4zM426.6 262h3v4h-3zM434.6 265h6v4h-6zM433.6 266h1v3h-1z"/><path fill="#f3eded" d="M467.6 166h4v4h-4zM464.6 170h3v4h-3zM412.6 171h4v4h-4zM405.6 175h3v1h-3zM404.6 176h2v2h-2zM478.6 178h4v3h-4zM479.6 181h3v1h-3zM439.6 226h4v4h-4zM436.6 261h8v2h-8zM437.6 263h7v2h-7zM459.6 265h3v4h-3zM455.6 269h4v4h-4z"/><path fill="#f6eae4" d="M474.6 166h4v2h-4zM475.6 168h3v2h-3zM408.6 171h4v4h-4z"/><path fill="#f6e7de" d="M478.6 166h3v4h-3zM411.6 167h1v1h-1zM408.6 168h3v3h-3zM478.6 174h4v4h-4z"/><path fill="#f6f0ed" d="M412.6 167h4v1h-4zM400.6 172h1v4h-1zM482.6 178h4v4h-4zM455.6 261h3v4h-3zM458.6 264h1v1h-1z"/><path fill="#f9e7de" d="M401.6 168h4v4h-4zM406.6 171h2v4h-2zM405.6 172h1v3h-1z"/><path fill="#f9e1d8" d="M405.6 168h3v3h-3zM405.6 171h1v1h-1z"/><path fill="#deeaf0" d="M515.6 169h4v4h-4zM512.6 177h3v4h-3zM508.6 205h1v2h-1zM406.6 211h3v4h-3zM409.6 213h1v2h-1zM454.6 233h4v4h-4zM447.6 234h3v3h-3zM447.6 237h2v1h-2zM487.6 237h4v4h-4zM447.6 249h4v4h-4z"/><path fill="#d8e7f0" d="M519.6 169h3v4h-3zM504.6 177h4v8h-4zM398.6 211h8v3h-8zM505.6 213h4v4h-4zM399.6 214h7v1h-7zM392.6 215h2v4h-2zM417.6 230h4v4h-4zM421.6 234h7v4h-7zM428.6 237h1v1h-1zM454.6 237h4v12h-4zM421.6 238h4v4h-4zM484.6 241h3v4h-3zM440.6 242h3v4h-3zM425.6 246h7v4h-7z"/><path fill="#dbe7f0" d="M522.6 169h4v4h-4zM515.6 177h4v4h-4zM397.6 212h1v3h-1zM398.6 214h1v1h-1zM410.6 215h3v4h-3zM413.6 223h4v2h-4zM414.6 225h3v1h-3zM414.6 226h2v1h-2zM449.6 237h2v4h-2zM458.6 237h4v4h-4zM465.6 237h4v4h-4zM473.6 237h7v4h-7zM432.6 238h4v4h-4zM447.6 238h2v3h-2zM487.6 241h3v4h-3zM502.6 244h4v1h-4zM447.6 245h4v4h-4zM440.6 246h3v7h-3zM429.6 250h4v4h-4zM436.6 250h4v4h-4zM443.6 250h1v3h-1zM473.6 257h7v4h-7zM484.6 257h3v3h-3zM484.6 260h1v1h-1z"/><path fill="#f0edf0" d="M460.6 170h4v4h-4zM432.6 225h4v1h-4zM426.6 266h3v4h-3zM459.6 269h3v4h-3zM448.6 273h7v4h-7z"/><path fill="#f3e7e1" d="M471.6 170h4v4h-4zM475.6 174h3v4h-3zM541.6 192h4v1h-4zM511.6 193h1v2h-1z"/><path fill="#f6ded2" d="M478.6 170h4v4h-4zM495.6 237h3v4h-3zM404.6 266h3v4h-3z"/><path fill="#f9dbcf" d="M482.6 170h4v4h-4z"/><path fill="#fcdbcc" d="M486.6 170h2v4h-2z"/><path fill="#f9eae4" d="M401.6 172h4v4h-4z"/><path fill="#f6ccb7" d="M496.6 173h1v4h-1zM493.6 174h3v3h-3z"/><path fill="#f9ccb7" d="M497.6 173h3v4h-3z"/><path fill="#f0d2c3" d="M500.6 173h4v4h-4z"/><path fill="#e1eaf0" d="M515.6 173h4v3h-4zM494.6 217h4v4h-4zM417.6 226h4v4h-4zM502.6 233h3v4h-3zM451.6 249h3v4h-3zM454.6 250h1v3h-1zM429.6 254h4v4h-4z"/><path fill="#e4edf6" d="M522.6 173h4v2h-4zM523.6 175h3v1h-3zM487.6 209h3v4h-3zM413.6 215h4v4h-4zM487.6 229h4v4h-4zM509.6 236h7v4h-7zM520.6 236h4v4h-4zM516.6 237h1v3h-1zM509.6 240h4v4h-4zM517.6 244h7v1h-7z"/><path fill="#eaf0f6" d="M526.6 173h2v3h-2zM501.6 181h3v4h-3zM523.6 189h3v4h-3zM526.6 190h1v3h-1zM392.6 207h2v4h-2zM512.6 209h4v4h-4zM442.6 210h4v2h-4zM417.6 211h3v4h-3zM443.6 212h3v2h-3zM420.6 213h1v2h-1zM472.6 213h7v4h-7zM422.6 214h5v4h-5zM421.6 215h1v3h-1zM427.6 215h1v3h-1zM432.6 215h3v3h-3zM468.6 217h4v4h-4zM479.6 217h4v4h-4zM509.6 217h7v4h-7zM505.6 221h4v4h-4zM516.6 221h4v11h-4zM524.6 224h3v12h-3zM535.6 224h3v8h-3zM509.6 225h7v4h-7zM531.6 228h4v4h-4zM538.6 228h8v4h-8zM542.6 232h4v12h-4zM531.6 240h4v4h-4zM539.6 240h3v5h-3zM546.6 244h4v1h-4zM481.6 272h3v5h-3zM492.6 272h3v3h-3zM477.6 276h4v1h-4z"/><path fill="#f6f3f3" d="M464.6 174h3v4h-3z"/><path fill="#f0eaea" d="M467.6 174h4v4h-4zM519.6 193h4v2h-4zM439.6 222h3v4h-3zM443.6 226h3v4h-3zM458.6 261h4v3h-4zM459.6 264h3v1h-3zM444.6 269h4v4h-4z"/><path fill="#f9e4d8" d="M482.6 174h4v4h-4zM516.6 193h3v2h-3z"/><path fill="#f6dbcf" d="M486.6 174h3v4h-3zM400.6 262h4v4h-4zM392.6 263h1v4h-1z"/><path fill="#f9dbc9" d="M489.6 174h4v3h-4zM489.6 177h2v1h-2zM512.6 197h3v4h-3z"/><path fill="#f6f3f6" d="M412.6 175h4v3h-4zM415.6 178h1v1h-1z"/><path fill="#f6eae7" d="M491.6 177h6v4h-6zM489.6 178h2v2h-2zM490.6 180h1v1h-1z"/><path fill="#f3e7e4" d="M497.6 177h3v4h-3zM500.6 178h1v3h-1zM411.6 262h4v4h-4z"/><path fill="#eaeaea" d="M500.6 177h4v1h-4zM501.6 178h3v3h-3zM422.6 270h4v4h-4z"/><path fill="#deeaf3" d="M508.6 177h1v4h-1zM510.6 177h2v4h-2zM519.6 181h4v8h-4zM509.6 209h3v4h-3zM498.6 217h3v4h-3zM421.6 230h4v4h-4zM458.6 233h7v4h-7zM469.6 233h11v4h-11zM483.6 233h8v4h-8zM428.6 234h4v3h-4zM429.6 237h3v1h-3zM480.6 237h4v4h-4zM509.6 244h4v1h-4zM425.6 250h4v4h-4zM433.6 250h3v4h-3zM502.6 256h4v4h-4zM488.6 257h3v3h-3z"/><path fill="#e1edf3" d="M519.6 177h4v4h-4zM511.6 185h1v4h-1zM501.6 217h4v4h-4zM476.6 229h4v4h-4zM491.6 229h3v4h-3zM452.6 233h2v4h-2zM450.6 234h2v3h-2zM517.6 240h3v4h-3zM513.6 244h4v1h-4zM506.6 256h3v4h-3z"/><path fill="#f3f0ed" d="M475.6 178h3v4h-3zM478.6 181h1v1h-1z"/><path fill="#f3f3f9" d="M431.6 179h3v4h-3zM423.6 183h4v4h-4zM530.6 193h2v2h-2zM442.6 194h3v1h-3z"/><path fill="#dbeaf3" d="M508.6 181h1v4h-1zM510.6 181h5v4h-5zM512.6 185h3v4h-3zM451.6 237h3v4h-3zM484.6 237h3v4h-3zM425.6 238h7v4h-7zM440.6 238h3v4h-3zM458.6 241h7v4h-7zM429.6 242h11v4h-11zM443.6 242h4v7h-4zM432.6 246h4v4h-4zM458.6 249h4v4h-4z"/><path fill="#d5e4ed" d="M515.6 181h4v4h-4zM410.6 219h3v4h-3zM466.6 253h3v4h-3z"/><path fill="#e7f0f6" d="M523.6 181h3v4h-3zM401.6 207h1v4h-1zM398.6 208h3v3h-3zM509.6 213h3v4h-3zM505.6 217h4v4h-4zM483.6 221h4v4h-4zM487.6 225h4v4h-4zM494.6 225h4v4h-4zM502.6 225h3v4h-3zM509.6 229h7v7h-7zM524.6 236h7v4h-7zM535.6 236h7v4h-7zM528.6 240h3v4h-3zM524.6 244h4v1h-4zM484.6 268h3v4h-3zM488.6 268h3v4h-3zM491.6 269h4v3h-4zM477.6 272h4v4h-4z"/><path fill="#edf3f6" d="M526.6 181h4v4h-4zM501.6 185h3v4h-3zM446.6 202h3v4h-3zM404.6 203h9v4h-9zM402.6 205h2v2h-2zM449.6 205h1v1h-1zM471.6 205h4v4h-4zM409.6 207h4v4h-4zM434.6 207h1v3h-1zM472.6 209h3v4h-3zM435.6 210h4v1h-4zM446.6 210h10v4h-10zM475.6 210h1v3h-1zM435.6 211h3v3h-3zM520.6 213h3v8h-3zM527.6 213h4v7h-4zM533.6 216h5v4h-5zM516.6 217h4v4h-4zM531.6 217h2v3h-2zM534.6 220h8v1h-8zM535.6 221h7v3h-7zM527.6 224h4v4h-4zM546.6 228h3v4h-3zM553.6 232h4v4h-4zM557.6 240h1v4h-1zM553.6 244h4v1h-4z"/><path fill="#d5e4f0" d="M515.6 185h4v4h-4zM417.6 234h4v3h-4zM418.6 237h3v1h-3zM476.6 241h8v4h-8zM421.6 242h4v4h-4zM462.6 245h3v4h-3z"/><path fill="#eaf0f3" d="M511.6 189h1v4h-1zM512.6 205h4v4h-4zM417.6 207h3v4h-3zM486.6 209h1v4h-1zM420.6 211h7v2h-7zM421.6 213h6v1h-6zM512.6 213h8v4h-8zM421.6 214h1v1h-1zM446.6 214h3v4h-3zM464.6 217h4v4h-4zM531.6 220h3v4h-3zM465.6 221h7v1h-7zM534.6 221h1v3h-1zM468.6 222h4v3h-4zM546.6 227h3v1h-3zM553.6 228h4v4h-4zM549.6 232h4v5h-4zM550.6 237h3v3h-3zM546.6 240h4v4h-4zM557.6 244h1v1h-1zM470.6 273h3v4h-3z"/><path fill="#e4eaed" d="M512.6 189h3v4h-3zM515.6 191h1v2h-1zM421.6 222h3v4h-3zM424.6 225h1v1h-1zM465.6 225h4v4h-4zM432.6 230h4v4h-4zM444.6 253h3v4h-3zM455.6 253h3v4h-3z"/><path fill="#e4eaf0" d="M515.6 189h4v2h-4zM516.6 191h3v2h-3zM421.6 218h3v4h-3zM461.6 229h8v1h-8zM464.6 230h5v3h-5zM491.6 233h3v4h-3zM502.6 237h4v3h-4zM502.6 240h1v1h-1zM440.6 253h4v4h-4zM422.6 254h7v4h-7zM477.6 265h4v3h-4zM477.6 268h2v1h-2z"/><path fill="#f0f6f9" d="M526.6 189h4v1h-4zM527.6 190h3v3h-3zM409.6 199h4v4h-4zM450.6 205h3v1h-3zM523.6 205h4v4h-4zM520.6 209h3v4h-3zM534.6 209h4v4h-4zM540.6 212h2v4h-2zM538.6 213h2v3h-2z"/><path fill="#f0f0f6" d="M438.6 190h1v1h-1zM441.6 190h1v4h-1zM538.6 205h4v4h-4zM444.6 277h3v2h-3z"/><path fill="#f9decf" d="M512.6 193h4v2h-4z"/><path fill="#fcdecf" d="M541.6 193h4v2h-4z"/><path fill="#ede7e7" d="M511.6 197h1v4h-1z"/><path fill="#edf0f6" d="M453.6 198h3v4h-3zM413.6 203h3v8h-3zM439.6 203h3v7h-3zM416.6 205h4v2h-4zM527.6 205h4v4h-4zM438.6 206h1v4h-1zM416.6 207h1v4h-1zM420.6 207h3v4h-3zM435.6 207h3v3h-3zM471.6 209h1v4h-1zM475.6 209h4v1h-4zM516.6 209h4v4h-4zM531.6 209h3v7h-3zM538.6 209h4v3h-4zM476.6 210h3v3h-3zM538.6 212h2v1h-2zM549.6 212h3v7h-3zM523.6 213h4v4h-4zM534.6 213h4v3h-4zM428.6 215h4v3h-4zM531.6 216h2v1h-2zM548.6 216h1v3h-1zM549.6 227h4v5h-4zM546.6 232h3v4h-3zM557.6 232h1v8h-1zM553.6 240h4v4h-4z"/><path fill="#c9e1ea" d="M500.6 201h1v4h-1z"/><path fill="#cfe1ed" d="M501.6 201h3v4h-3zM410.6 223h3v4h-3zM413.6 225h1v2h-1zM414.6 234h3v4h-3zM417.6 237h1v1h-1zM410.6 242h4v4h-4zM469.6 253h4v4h-4z"/><path fill="#f0eae7" d="M512.6 201h4v4h-4zM415.6 262h3v4h-3z"/><path fill="#f0f3f9" d="M523.6 201h4v4h-4zM392.6 205h2v2h-2zM453.6 205h4v1h-4zM516.6 205h7v4h-7zM523.6 209h8v4h-8zM523.6 217h4v4h-4zM553.6 227h4v1h-4z"/><path fill="#edf3f9" d="M401.6 205h1v2h-1zM434.6 210h1v1h-1zM439.6 210h3v1h-3zM442.6 212h1v2h-1zM527.6 220h4v4h-4zM512.6 221h4v1h-4zM523.6 221h4v1h-4zM513.6 222h3v3h-3zM524.6 222h3v2h-3zM531.6 224h4v4h-4zM538.6 224h4v4h-4zM542.6 227h4v1h-4zM546.6 236h3v4h-3zM553.6 236h4v4h-4zM549.6 237h1v3h-1zM550.6 244h3v1h-3z"/><path fill="#aed5e7" d="M497.6 205h4v3h-4zM498.6 208h3v1h-3z"/><path fill="#b4d8e7" d="M501.6 205h4v4h-4z"/><path fill="#cce1ed" d="M505.6 205h3v4h-3zM508.6 207h1v2h-1zM501.6 213h4v4h-4zM392.6 219h2v4h-2zM473.6 253h4v4h-4zM484.6 255h3v2h-3z"/><path fill="#bad8e7" d="M497.6 208h1v1h-1zM392.6 231h2v4h-2zM406.6 235h4v2h-4zM407.6 237h3v2h-3zM403.6 239h4v4h-4z"/><path fill="#d2e4ed" d="M490.6 209h4v4h-4zM414.6 230h3v4h-3z"/><path fill="#bad8ea" d="M494.6 209h4v4h-4zM469.6 249h4v4h-4z"/><path fill="#abd2e4" d="M498.6 209h3v4h-3zM402.6 223h4v2h-4zM403.6 225h3v2h-3z"/><path fill="#b4d8ea" d="M501.6 209h4v4h-4z"/><path fill="#c9e1ed" d="M505.6 209h4v4h-4zM498.6 213h3v4h-3zM412.6 234h2v4h-2zM410.6 235h2v3h-2zM477.6 253h6v4h-6zM483.6 255h1v2h-1z"/><path fill="#deedf3" d="M490.6 213h3v4h-3zM493.6 216h1v1h-1z"/><path fill="#d2e4f0" d="M497.6 213h1v4h-1zM494.6 216h3v1h-3zM414.6 238h4v4h-4z"/><path fill="#eaedf3" d="M435.6 214h11v4h-11zM424.6 218h4v4h-4zM520.6 221h3v3h-3zM523.6 222h1v2h-1zM520.6 224h1v1h-1zM473.6 265h4v4h-4zM433.6 273h7v4h-7zM440.6 276h1v1h-1z"/><path fill="#cce4f0" d="M395.6 215h4v4h-4z"/><path fill="#c6e1ed" d="M399.6 215h3v4h-3z"/><path fill="#c9deed" d="M402.6 215h4v4h-4zM484.6 245h3v4h-3zM465.6 249h4v2h-4zM466.6 251h3v2h-3z"/><path fill="#d2e1ed" d="M406.6 215h4v4h-4zM462.6 249h3v4h-3zM465.6 251h1v2h-1z"/><path fill="#e4eaf3" d="M417.6 215h4v3h-4zM417.6 218h3v1h-3zM483.6 225h4v4h-4zM524.6 240h4v4h-4zM436.6 254h4v3h-4zM436.6 257h2v1h-2zM480.6 261h4v3h-4zM480.6 264h2v1h-2z"/><path fill="#ededf0" d="M435.6 218h7v1h-7zM441.6 219h1v3h-1zM428.6 222h3v4h-3zM431.6 225h1v1h-1zM440.6 257h4v4h-4zM458.6 257h4v4h-4zM433.6 258h3v4h-3zM462.6 261h4v4h-4zM466.6 265h4v4h-4zM432.6 269h8v4h-8zM462.6 269h4v4h-4zM429.6 270h3v3h-3zM429.6 273h1v1h-1zM422.6 274h4v3h-4z"/><path fill="#ededf3" d="M446.6 218h4v3h-4zM466.6 269h4v4h-4z"/><path fill="#badbea" d="M395.6 219h4v4h-4z"/><path fill="#b1d5e7" d="M399.6 219h3v4h-3zM403.6 235h3v4h-3zM406.6 237h1v2h-1z"/><path fill="#b7d5e7" d="M402.6 219h4v4h-4z"/><path fill="#c3dbea" d="M406.6 219h4v4h-4z"/><path fill="#eaedf0" d="M464.6 221h1v1h-1zM422.6 258h11v4h-11zM440.6 273h4v3h-4zM462.6 273h4v4h-4zM441.6 276h3v1h-3z"/><path fill="#e1e7ed" d="M418.6 222h3v4h-3zM417.6 223h1v3h-1zM428.6 230h4v4h-4zM458.6 253h4v4h-4zM466.6 257h3v4h-3z"/><path fill="#eaeaf0" d="M424.6 222h4v3h-4zM425.6 225h3v1h-3zM464.6 225h1v4h-1zM461.6 226h3v3h-3z"/><path fill="#edeaea" d="M438.6 222h1v4h-1zM436.6 225h2v1h-2zM444.6 257h3v4h-3zM455.6 257h3v4h-3zM418.6 262h4v12h-4zM419.6 274h3v3h-3z"/><path fill="#c0dbea" d="M392.6 223h2v4h-2zM406.6 223h4v4h-4zM392.6 235h2v4h-2zM395.6 237h1v2h-1zM396.6 239h3v4h-3z"/><path fill="#aed2e7" d="M395.6 223h4v4h-4z"/><path fill="#9fc9de" d="M399.6 223h3v4h-3zM402.6 225h1v2h-1z"/><path fill="#e7edf6" d="M491.6 225h3v4h-3zM507.6 225h2v4h-2zM505.6 227h2v2h-2zM528.6 244h3v1h-3z"/><path fill="#d5e1ed" d="M416.6 226h1v4h-1zM414.6 227h2v3h-2z"/><path fill="#e7e7ed" d="M425.6 226h3v4h-3zM443.6 230h3v4h-3zM446.6 233h1v1h-1z"/><path fill="#eaeaed" d="M428.6 226h4v4h-4zM498.6 233h4v4h-4zM438.6 257h2v4h-2zM436.6 258h2v3h-2zM466.6 261h3v4h-3zM469.6 264h1v1h-1zM459.6 273h3v4h-3z"/><path fill="#f0eded" d="M432.6 226h4v4h-4zM447.6 257h4v4h-4zM433.6 262h3v3h-3zM436.6 263h1v2h-1zM433.6 265h1v1h-1zM462.6 265h4v4h-4zM429.6 266h4v3h-4zM429.6 269h3v1h-3z"/><path fill="#ede7ea" d="M436.6 226h3v4h-3z"/><path fill="#bddbea" d="M392.6 227h2v4h-2z"/><path fill="#a8cfe4" d="M395.6 227h4v4h-4zM399.6 235h4v4h-4z"/><path fill="#9cc9e1" d="M399.6 227h4v4h-4z"/><path fill="#a2cce1" d="M403.6 227h3v8h-3z"/><path fill="#b4d5e4" d="M406.6 227h4v4h-4z"/><path fill="#c9deea" d="M410.6 227h4v4h-4zM410.6 238h4v4h-4zM392.6 239h2v4h-2zM395.6 239h1v4h-1zM409.6 242h1v4h-1zM403.6 243h6v3h-6zM403.6 246h4v1h-4z"/><path fill="#e4e7ed" d="M436.6 230h3v4h-3zM418.6 254h4v4h-4z"/><path fill="#e7eaf0" d="M439.6 230h4v4h-4zM450.6 233h2v1h-2zM447.6 253h4v4h-4zM462.6 257h4v4h-4zM470.6 265h3v8h-3z"/><path fill="#a8d2e4" d="M395.6 231h4v4h-4z"/><path fill="#9fcce1" d="M399.6 231h4v4h-4z"/><path fill="#b7d8ea" d="M406.6 231h4v4h-4z"/><path fill="#c6deed" d="M410.6 231h4v3h-4zM410.6 234h2v1h-2zM407.6 239h3v3h-3zM407.6 242h2v1h-2zM469.6 245h4v4h-4z"/><path fill="#e7f0f3" d="M535.6 232h3v4h-3z"/><path fill="#e7eaed" d="M447.6 233h3v1h-3z"/><path fill="#e1edf6" d="M465.6 233h4v4h-4zM480.6 233h3v4h-3zM506.6 240h3v5h-3z"/><path fill="#eae7e7" d="M494.6 233h4v4h-4zM414.6 258h4v3h-4zM415.6 261h3v1h-3z"/><path fill="#dee7f0" d="M432.6 234h4v4h-4zM443.6 234h4v4h-4zM454.6 249h4v1h-4zM418.6 250h4v4h-4zM455.6 250h3v3h-3z"/><path fill="#b1d2e4" d="M395.6 235h4v2h-4zM396.6 237h3v2h-3zM480.6 249h3v4h-3z"/><path fill="#deeaf6" d="M462.6 237h3v4h-3z"/><path fill="#dbe7f3" d="M469.6 237h4v4h-4zM436.6 238h4v4h-4zM443.6 238h4v4h-4zM451.6 245h3v4h-3zM458.6 245h4v4h-4zM418.6 246h3v4h-3z"/><path fill="#eae7ea" d="M491.6 237h4v4h-4z"/><path fill="#ede4de" d="M498.6 237h4v4h-4zM407.6 258h4v4h-4z"/><path fill="#d8e7f3" d="M418.6 238h3v4h-3zM451.6 241h3v4h-3zM465.6 241h8v4h-8z"/><path fill="#b7d5e4" d="M399.6 239h4v4h-4z"/><path fill="#d8e4f0" d="M447.6 241h4v4h-4zM425.6 242h4v4h-4zM421.6 246h4v4h-4zM436.6 246h4v4h-4z"/><path fill="#d5e7f3" d="M473.6 241h3v4h-3z"/><path fill="#d5e7f0" d="M414.6 242h7v4h-7z"/><path fill="#d2e1ea" d="M392.6 243h2v4h-2zM395.6 243h1v2h-1z"/><path fill="#c9dbe7" d="M396.6 243h3v4h-3z"/><path fill="#c6dbe7" d="M399.6 243h4v4h-4z"/><path fill="#cfe1f0" d="M465.6 245h4v4h-4z"/><path fill="#bdd8ea" d="M473.6 245h7v4h-7z"/><path fill="#c3deed" d="M480.6 245h4v4h-4z"/><path fill="#d2e1e7" d="M407.6 246h3v4h-3zM410.6 249h1v1h-1z"/><path fill="#d5e1ea" d="M410.6 246h4v3h-4zM411.6 249h3v1h-3z"/><path fill="#d8e4ed" d="M414.6 246h4v4h-4z"/><path fill="#dbe1e7" d="M392.6 247h2v4h-2z"/><path fill="#d5dee4" d="M396.6 247h3v4h-3zM399.6 249h1v2h-1z"/><path fill="#d5dee7" d="M399.6 247h4v2h-4zM400.6 249h3v2h-3z"/><path fill="#d2dee7" d="M403.6 247h4v3h-4zM403.6 250h2v1h-2z"/><path fill="#aecfe4" d="M473.6 249h3v4h-3zM476.6 251h1v2h-1z"/><path fill="#a8cfe1" d="M476.6 249h4v2h-4zM477.6 251h3v2h-3z"/><path fill="#dee1e4" d="M405.6 250h2v4h-2zM403.6 251h2v3h-2z"/><path fill="#dbe1e4" d="M407.6 250h4v4h-4z"/><path fill="#dee4ea" d="M411.6 250h3v4h-3z"/><path fill="#dee7ed" d="M414.6 250h4v4h-4zM433.6 254h3v4h-3zM469.6 257h4v4h-4z"/><path fill="#dbe4ed" d="M422.6 250h3v4h-3z"/><path fill="#e4e1e1" d="M392.6 251h2v4h-2z"/><path fill="#e1e1e1" d="M396.6 251h4v4h-4z"/><path fill="#dedee1" d="M400.6 251h3v4h-3z"/><path fill="#e7edf0" d="M451.6 253h4v4h-4zM469.6 261h4v3h-4zM470.6 264h3v1h-3zM473.6 269h4v3h-4zM473.6 272h3v1h-3zM466.6 273h4v4h-4z"/><path fill="#dbe7ed" d="M462.6 253h4v4h-4z"/><path fill="#eae1de" d="M403.6 254h4v4h-4z"/><path fill="#e4e1de" d="M407.6 254h4v4h-4z"/><path fill="#e1e1e4" d="M411.6 254h3v4h-3z"/><path fill="#e4e7ea" d="M414.6 254h4v4h-4z"/><path fill="#ede1db" d="M392.6 255h2v4h-2z"/><path fill="#eaded8" d="M396.6 255h4v4h-4z"/><path fill="#e7dbd8" d="M400.6 255h3v3h-3zM400.6 258h2v1h-2z"/><path fill="#f0eaed" d="M451.6 257h4v4h-4z"/><path fill="#d8e7ed" d="M480.6 257h4v4h-4z"/><path fill="#f0dbd2" d="M402.6 258h1v4h-1zM400.6 259h2v3h-2zM403.6 261h1v1h-1zM408.6 274h3v4h-3z"/><path fill="#edded5" d="M403.6 258h4v3h-4zM404.6 261h3v1h-3z"/><path fill="#ede7e4" d="M411.6 258h3v4h-3zM414.6 261h1v1h-1z"/><path fill="#e7e7ea" d="M418.6 258h4v4h-4z"/><path fill="#f3dbd2" d="M392.6 259h2v1h-2zM393.6 260h1v3h-1z"/><path fill="#f0dbcf" d="M396.6 259h4v4h-4zM407.6 270h4v3h-4zM408.6 273h3v1h-3z"/><path fill="#eddbd2" d="M392.6 260h1v3h-1z"/><path fill="#f3edea" d="M444.6 261h3v4h-3zM447.6 263h1v2h-1z"/><path fill="#f3eae7" d="M451.6 261h4v4h-4z"/><path fill="#f6e1d8" d="M404.6 262h3v4h-3z"/><path fill="#f3e4db" d="M407.6 262h4v4h-4z"/><path fill="#ededed" d="M429.6 262h4v4h-4zM444.6 273h4v4h-4z"/><path fill="#f3d8c9" d="M393.6 263h1v4h-1z"/><path fill="#f3d5c9" d="M396.6 263h4v3h-4zM396.6 266h2v1h-2z"/><path fill="#e4edf0" d="M482.6 264h2v4h-2zM481.6 265h1v3h-1z"/><path fill="#f3eaea" d="M444.6 265h4v4h-4zM451.6 269h4v4h-4z"/><path fill="#f6eded" d="M448.6 265h3v8h-3zM455.6 265h4v4h-4z"/><path fill="#f9d2c0" d="M398.6 266h2v4h-2zM396.6 267h2v3h-2zM396.6 270h1v1h-1z"/><path fill="#f3d5c3" d="M400.6 266h4v4h-4z"/><path fill="#f3e1d8" d="M407.6 266h4v4h-4z"/><path fill="#f3e4de" d="M411.6 266h4v4h-4zM411.6 274h4v4h-4z"/><path fill="#f0e7e4" d="M415.6 266h3v4h-3z"/><path fill="#edeaed" d="M422.6 266h4v4h-4zM440.6 269h4v4h-4z"/><path fill="#f3cfc0" d="M392.6 267h1v4h-1z"/><path fill="#f6cfba" d="M393.6 267h1v4h-1z"/><path fill="#f6c0a5" d="M397.6 270h3v4h-3zM396.6 271h1v1h-1z"/><path fill="#f9ccba" d="M400.6 270h4v4h-4z"/><path fill="#f6d5c6" d="M404.6 270h3v4h-3zM407.6 273h1v1h-1z"/><path fill="#f3e1db" d="M411.6 270h4v4h-4zM408.6 278h3v1h-3z"/><path fill="#ede4e1" d="M415.6 270h3v4h-3z"/><path fill="#f3c0a8" d="M392.6 271h1v4h-1z"/><path fill="#f6ba9f" d="M393.6 271h1v4h-1zM396.6 272h1v2h-1z"/><path fill="#eaf3f6" d="M506.6 272h3v3h-3zM473.6 276h4v1h-4z"/><path fill="#f6a27b" d="M396.6 274h1v4h-1zM393.6 275h1v3h-1z"/><path fill="#f6ae8d" d="M397.6 274h3v4h-3z"/><path fill="#f6c3ae" d="M400.6 274h4v4h-4z"/><path fill="#f3d2c3" d="M404.6 274h4v4h-4z"/><path fill="#f0e7e7" d="M415.6 274h4v3h-4z"/><path fill="#f6b190" d="M392.6 275h1v4h-1z"/><path fill="#f6b496" d="M393.6 278h1v1h-1zM396.6 278h1v1h-1z"/><path fill="#f6bda2" d="M397.6 278h3v1h-3z"/><path fill="#f3ccba" d="M400.6 278h4v1h-4z"/><path fill="#f3dbcf" d="M404.6 278h4v1h-4z"/><path fill="#f0e4e1" d="M411.6 278h4v1h-4z"/></g>
<path d="M547.40,154.30 L544.60,155.40 L540.10,157.10 L537.10,159.00 L534.10,162.00 L531.10,166.10 L528.10,171.00 L526.60,175.75 L524.35,180.25 L522.50,186.25 L520.60,192.25 L519.10,197.50 L518.35,200.00 L516.85,204.50 L515.00,209.75 L512.35,213.50 L510.50,218.00 L508.60,224.00 L506.70,228.00 L504.10,230.25 L502.20,232.50 L502.60,235.50 L503.35,238.50 L504.10,242.25 L503.70,246.75 L505.60,248.25 L508.60,249.40 L510.85,251.60 L512.35,253.00 L513.50,257.50 L515.00,261.25 L517.20,264.25 L517.60,269.50 L518.00,274.75 L518.00,282.00 L558.60,282.00 L558.60,219.00 L553.60,221.00 L552.10,224.00 L549.60,225.50 L546.60,225.00 L544.60,223.00 L544.10,220.00 L544.40,215.50 L545.40,213.20 L547.60,211.50 L549.40,209.50 L549.60,206.50 L548.10,204.80 L546.40,205.50 L545.20,208.60 L543.90,207.00 L544.20,204.00 L544.80,201.50 L544.10,199.50 L542.35,196.75 L540.50,193.00 L541.20,187.75 L542.35,181.75 L543.50,175.75 L543.85,173.25 L544.50,169.50 L545.35,165.75 L546.50,162.40 L547.60,159.75 L548.90,157.60 L549.30,156.00 L548.80,154.80Z" fill="#efefdb" stroke="#7f7f7f" stroke-width="1.45" stroke-linejoin="round"/>
<g stroke="#adadad" stroke-width="1.25"><line x1="393.70" y1="125.5" x2="398.10" y2="279.5"/><line x1="416.77" y1="125.5" x2="420.97" y2="279.5"/><line x1="439.84" y1="125.5" x2="443.84" y2="279.5"/><line x1="462.91" y1="125.5" x2="466.71" y2="279.5"/><line x1="485.98" y1="125.5" x2="489.58" y2="279.5"/><line x1="509.05" y1="125.5" x2="512.45" y2="279.5"/><line x1="532.12" y1="125.5" x2="535.32" y2="279.5"/><line x1="555.19" y1="125.5" x2="558.19" y2="279.5"/><polyline fill="none" points="393.6,119.56 413.6,118.95 433.6,118.42 453.6,117.95 473.6,117.55 493.6,117.22 513.6,116.96 533.6,116.77 553.6,116.64 573.6,116.59"/><polyline fill="none" points="393.6,139.30 413.6,138.69 433.6,138.16 453.6,137.69 473.6,137.29 493.6,136.96 513.6,136.70 533.6,136.51 553.6,136.38 573.6,136.33"/><polyline fill="none" points="393.6,159.04 413.6,158.43 433.6,157.90 453.6,157.43 473.6,157.03 493.6,156.70 513.6,156.44 533.6,156.25 553.6,156.12 573.6,156.07"/><polyline fill="none" points="393.6,178.78 413.6,178.17 433.6,177.64 453.6,177.17 473.6,176.77 493.6,176.44 513.6,176.18 533.6,175.99 553.6,175.86 573.6,175.81"/><polyline fill="none" points="393.6,198.52 413.6,197.91 433.6,197.38 453.6,196.91 473.6,196.51 493.6,196.18 513.6,195.92 533.6,195.73 553.6,195.60 573.6,195.55"/><polyline fill="none" points="393.6,218.26 413.6,217.65 433.6,217.12 453.6,216.65 473.6,216.25 493.6,215.92 513.6,215.66 533.6,215.47 553.6,215.34 573.6,215.29"/><polyline fill="none" points="393.6,238.00 413.6,237.39 433.6,236.86 453.6,236.39 473.6,235.99 493.6,235.66 513.6,235.40 533.6,235.21 553.6,235.08 573.6,235.03"/><polyline fill="none" points="393.6,257.74 413.6,257.13 433.6,256.60 453.6,256.13 473.6,255.73 493.6,255.40 513.6,255.14 533.6,254.95 553.6,254.82 573.6,254.77"/><polyline fill="none" points="393.6,277.48 413.6,276.87 433.6,276.34 453.6,275.87 473.6,275.47 493.6,275.14 513.6,274.88 533.6,274.69 553.6,274.56 573.6,274.51"/></g>
</g>
<rect x="393.5" y="125.5" width="161.0" height="154.0" fill="none" stroke="#000" stroke-width="1.1"/>
<text x="473.5" y="96" font-size="16.67" text-anchor="middle" >dSST/dt [K hr<tspan dy="-6.6" font-size="11.67">−1</tspan><tspan dy="6.6">]</tspan></text>
<text x="393.40000000000003" y="115" font-size="13.89" text-anchor="middle" >112.5°E</text>
<text x="397.40000000000003" y="297" font-size="13.89" text-anchor="middle" >112.5°E</text>
<text x="462.8" y="115" font-size="13.89" text-anchor="middle" >113.25°E</text>
<text x="466.8" y="297" font-size="13.89" text-anchor="middle" >113.25°E</text>
<text x="531.8" y="115" font-size="13.89" text-anchor="middle" >114°E</text>
<text x="535.8" y="297" font-size="13.89" text-anchor="middle" >114°E</text>
<rect x="564.90" y="171.5" width="4.1" height="62.0" fill="url(#cb1)" stroke="#000" stroke-width="1.1"/>
<line x1="569.50" y1="183.4" x2="573.46" y2="183.4" stroke="#000" stroke-width="1.1"/>
<text x="577.7000000000002" y="188.8" font-size="13.89" text-anchor="start" >0.25</text>
<line x1="569.50" y1="202.3" x2="573.46" y2="202.3" stroke="#000" stroke-width="1.1"/>
<text x="577.7000000000002" y="207.70000000000002" font-size="13.89" text-anchor="start" >0.00</text>
<line x1="569.50" y1="221.3" x2="573.46" y2="221.3" stroke="#000" stroke-width="1.1"/>
<text x="577.7000000000002" y="226.70000000000002" font-size="13.89" text-anchor="start" >−0.25</text>
<g clip-path="url(#c2)">
<rect x="635.5" y="125.5" width="162.0" height="154.0" fill="#97b6e1"/>
<g shape-rendering="crispEdges"><path fill="#f6f3f0" d="M683.2 127h4v4h-4zM643.2 128h3v4h-3zM636.2 129h3v3h-3zM676.2 131h4v4h-4zM636.2 140h3v4h-3zM639.2 143h1v1h-1zM743.2 150h4v8h-4zM761.2 153h1v4h-1zM725.2 154h3v4h-3zM732.2 154h7v4h-7zM636.2 156h4v11h-4zM640.2 159h7v1h-7zM749.2 161h1v4h-1zM739.2 162h4v2h-4zM747.2 162h2v3h-2zM750.2 162h1v3h-1zM651.2 163h4v4h-4zM644.2 164h7v4h-7zM740.2 164h3v2h-3zM745.2 165h2v4h-2zM776.2 165h4v4h-4zM710.2 166h7v4h-7zM729.2 166h3v4h-3zM743.2 166h2v3h-2zM637.2 167h3v5h-3zM692.2 167h7v3h-7zM717.2 168h1v2h-1zM773.2 169h3v4h-3zM784.2 169h1v4h-1zM692.2 170h3v8h-3zM718.2 170h3v4h-3zM651.2 171h4v4h-4zM695.2 171h1v7h-1zM640.2 172h4v4h-4zM780.2 173h4v8h-4zM688.2 174h4v4h-4zM696.2 174h3v8h-3zM707.2 174h3v8h-3zM729.2 174h3v4h-3zM648.2 175h3v4h-3zM655.2 175h7v4h-7zM662.2 176h1v3h-1zM651.2 177h1v2h-1zM784.2 177h1v8h-1zM710.2 178h15v4h-15zM646.2 179h2v12h-2zM652.2 179h7v4h-7zM644.2 180h2v10h-2zM768.2 181h1v4h-1zM777.2 181h3v12h-3zM685.2 182h11v4h-11zM714.2 182h4v8h-4zM663.2 183h3v4h-3zM670.2 183h4v8h-4zM641.2 184h3v3h-3zM681.2 186h4v4h-4zM689.2 186h7v4h-7zM641.2 187h2v1h-2zM648.2 187h4v4h-4zM674.2 187h4v3h-4zM780.2 188h1v5h-1zM724.2 189h1v16h-1zM769.2 189h8v1h-8zM645.2 190h1v1h-1zM674.2 190h3v1h-3zM692.2 190h4v4h-4zM711.2 190h3v4h-3zM722.2 190h2v15h-2zM770.2 190h7v3h-7zM641.2 191h4v5h-4zM635.2 192h1v4h-1zM751.2 193h4v4h-4zM765.2 193h1v4h-1zM781.2 193h3v12h-3zM674.2 194h4v4h-4zM685.2 194h7v4h-7zM700.2 194h3v4h-3zM639.2 195h2v1h-2zM648.2 195h15v4h-15zM667.2 195h3v4h-3zM725.2 195h1v10h-1zM763.2 195h2v2h-2zM759.2 196h4v1h-4zM703.2 197h1v1h-1zM773.2 197h4v4h-4zM784.2 197h1v8h-1zM693.2 198h7v4h-7zM704.2 198h3v4h-3zM652.2 199h4v8h-4zM718.2 201h4v9h-4zM765.2 201h1v4h-1zM777.2 201h4v4h-4zM648.2 202h1v5h-1zM670.2 202h1v4h-1zM674.2 202h11v4h-11zM696.2 202h4v4h-4zM711.2 202h4v11h-4zM645.2 203h3v4h-3zM667.2 203h3v3h-3zM635.2 204h1v3h-1zM766.2 205h8v8h-8zM667.2 206h1v1h-1zM707.2 206h4v3h-4zM641.2 207h4v8h-4zM649.2 207h3v4h-3zM660.2 207h7v4h-7zM707.2 209h3v1h-3zM722.2 209h4v4h-4zM763.2 209h3v4h-3zM777.2 209h4v4h-4zM667.2 210h7v4h-7zM719.2 210h3v3h-3zM635.2 211h1v8h-1zM638.2 211h3v4h-3zM674.2 212h1v6h-1zM715.2 213h4v4h-4zM774.2 213h3v3h-3zM665.2 214h2v8h-2zM671.2 214h3v4h-3zM686.2 214h3v8h-3zM642.2 215h7v4h-7zM664.2 215h1v7h-1zM755.2 215h4v7h-4zM774.2 216h2v1h-2zM763.2 217h7v4h-7zM682.2 218h4v4h-4zM770.2 220h4v4h-4zM781.2 220h4v4h-4zM675.2 222h3v20h-3zM756.2 222h3v7h-3zM774.2 224h4v8h-4zM678.2 225h1v17h-1zM668.2 226h3v4h-3zM686.2 226h4v4h-4zM635.2 227h1v4h-1zM638.2 227h4v10h-4zM770.2 228h4v4h-4zM778.2 228h11v4h-11zM792.2 228h4v4h-4zM679.2 230h3v8h-3zM759.2 232h11v4h-11zM778.2 232h3v8h-3zM789.2 232h3v12h-3zM796.2 232h5v4h-5zM682.2 234h4v4h-4zM759.2 236h4v1h-4zM767.2 236h3v4h-3zM796.2 236h4v4h-4zM639.2 237h3v2h-3zM692.2 237h2v4h-2zM760.2 237h3v3h-3zM770.2 237h1v3h-1zM781.2 237h1v3h-1zM792.2 237h1v7h-1zM672.2 238h3v4h-3zM690.2 238h2v3h-2zM635.2 239h1v8h-1zM638.2 239h1v6h-1zM752.2 240h4v4h-4zM800.2 240h1v12h-1zM679.2 242h4v4h-4zM639.2 243h3v8h-3zM763.2 244h11v4h-11zM778.2 244h4v4h-4zM785.2 244h4v12h-4zM688.2 245h2v4h-2zM686.2 246h2v3h-2zM756.2 248h7v4h-7zM771.2 248h7v8h-7zM782.2 248h3v8h-3zM793.2 248h7v4h-7zM642.2 249h1v2h-1zM676.2 250h3v4h-3zM635.2 251h1v4h-1zM756.2 252h4v4h-4zM789.2 252h7v4h-7zM683.2 253h4v4h-4zM698.2 253h3v4h-3zM796.2 254h1v2h-1zM764.2 256h3v4h-3zM789.2 256h4v8h-4zM756.2 260h4v4h-4zM775.2 260h3v8h-3zM782.2 260h7v8h-7zM800.2 260h1v4h-1zM679.2 261h8v4h-8zM701.2 261h4v3h-4zM709.2 261h3v8h-3zM676.2 262h3v3h-3zM702.2 264h3v1h-3zM712.2 264h1v5h-1zM764.2 264h11v8h-11zM793.2 264h7v8h-7zM676.2 265h1v1h-1zM680.2 265h7v4h-7zM705.2 265h4v4h-4zM753.2 268h4v4h-4zM778.2 268h8v1h-8zM680.2 269h3v4h-3zM694.2 269h4v7h-4zM779.2 269h7v3h-7zM640.2 270h3v4h-3zM639.2 271h1v1h-1zM800.2 271h1v5h-1zM720.2 272h4v4h-4zM775.2 272h4v4h-4zM786.2 272h7v4h-7zM797.2 272h3v4h-3zM673.2 273h3v4h-3zM698.2 273h4v4h-4zM709.2 273h7v4h-7zM639.2 274h1v5h-1zM669.2 274h4v3h-4zM695.2 276h3v1h-3z"/><path fill="#f3edea" d="M687.2 127h4v4h-4zM669.2 135h3v4h-3zM672.2 137h1v2h-1zM673.2 139h3v1h-3zM677.2 155h3v4h-3zM761.2 157h1v3h-1zM762.2 158h3v3h-3zM666.2 159h7v4h-7zM666.2 167h4v4h-4zM673.2 167h4v4h-4zM670.2 171h3v8h-3zM677.2 171h4v4h-4zM673.2 174h1v5h-1zM681.2 175h4v3h-4zM681.2 178h2v1h-2zM652.2 211h4v2h-4zM653.2 213h3v2h-3zM656.2 215h8v3h-8zM656.2 218h7v1h-7zM649.2 219h7v4h-7zM660.2 226h4v4h-4zM646.2 227h3v4h-3zM664.2 230h4v4h-4zM746.2 240h6v4h-6zM745.2 241h1v3h-1zM752.2 244h4v4h-4zM643.2 251h3v4h-3zM661.2 254h4v4h-4zM645.2 258h1v8h-1zM643.2 259h2v7h-2zM646.2 261h1v5h-1zM647.2 262h7v4h-7z"/><path fill="#f0eae7" d="M691.2 127h3v4h-3zM680.2 159h3v2h-3zM681.2 161h2v2h-2zM666.2 163h4v4h-4zM649.2 223h4v4h-4zM660.2 234h4v3h-4zM661.2 237h3v1h-3zM752.2 248h4v1h-4zM753.2 249h3v3h-3zM753.2 256h3v4h-3zM657.2 258h4v3h-4zM658.2 261h3v1h-3z"/><path fill="#e7e1d8" d="M694.2 127h4v5h-4zM695.2 132h3v3h-3zM657.2 238h4v8h-4zM652.2 242h1v4h-1zM650.2 243h2v3h-2zM749.2 248h3v1h-3zM742.2 252h3v4h-3z"/><path fill="#ded8cc" d="M698.2 127h4v4h-4z"/><path fill="#e1dbcf" d="M702.2 127h3v8h-3zM705.2 129h1v6h-1z"/><path fill="#eae4de" d="M705.2 127h4v2h-4zM706.2 129h3v2h-3zM745.2 244h4v4h-4zM741.2 248h4v4h-4zM742.2 256h3v4h-3z"/><path fill="#f3f0ed" d="M672.2 128h4v9h-4zM680.2 128h2v3h-2zM683.2 131h4v3h-4zM639.2 132h8v3h-8zM669.2 132h3v3h-3zM684.2 134h3v1h-3zM639.2 135h4v4h-4zM676.2 135h4v4h-4zM636.2 136h3v3h-3zM665.2 136h4v3h-4zM673.2 137h3v2h-3zM639.2 140h4v3h-4zM640.2 143h3v1h-3zM725.2 150h7v4h-7zM736.2 150h7v4h-7zM728.2 154h4v4h-4zM747.2 154h3v7h-3zM732.2 158h7v8h-7zM743.2 158h4v7h-4zM647.2 159h4v5h-4zM640.2 160h7v4h-7zM747.2 161h2v1h-2zM773.2 161h2v4h-2zM655.2 163h3v8h-3zM658.2 164h1v7h-1zM739.2 164h1v6h-1zM635.2 165h1v23h-1zM743.2 165h2v1h-2zM762.2 165h3v4h-3zM780.2 165h5v4h-5zM699.2 166h7v4h-7zM725.2 166h4v4h-4zM736.2 166h3v4h-3zM740.2 166h3v11h-3zM636.2 167h1v9h-1zM651.2 167h4v4h-4zM659.2 167h7v8h-7zM684.2 167h8v3h-8zM640.2 168h8v4h-8zM743.2 169h4v4h-4zM776.2 169h8v4h-8zM684.2 170h3v1h-3zM688.2 170h4v4h-4zM707.2 170h11v4h-11zM666.2 171h4v4h-4zM637.2 172h3v4h-3zM644.2 172h4v7h-4zM791.2 172h4v1h-4zM747.2 173h4v4h-4zM773.2 173h7v4h-7zM784.2 173h1v4h-1zM685.2 174h3v8h-3zM699.2 174h4v10h-4zM710.2 174h19v4h-19zM732.2 174h4v3h-4zM651.2 175h4v2h-4zM677.2 175h4v4h-4zM769.2 175h4v2h-4zM640.2 176h4v3h-4zM652.2 177h3v2h-3zM732.2 177h2v1h-2zM777.2 177h3v4h-3zM791.2 177h4v3h-4zM688.2 178h4v4h-4zM703.2 178h4v19h-4zM729.2 178h3v3h-3zM641.2 179h5v1h-5zM659.2 179h11v4h-11zM674.2 179h3v4h-3zM637.2 180h7v4h-7zM732.2 180h1v1h-1zM729.2 181h2v1h-2zM769.2 181h4v4h-4zM780.2 181h4v7h-4zM681.2 182h4v4h-4zM707.2 182h3v20h-3zM648.2 183h4v4h-4zM655.2 183h8v4h-8zM666.2 183h4v4h-4zM710.2 183h1v19h-1zM637.2 184h4v8h-4zM700.2 184h3v2h-3zM728.2 185h1v4h-1zM768.2 185h1v16h-1zM773.2 185h4v4h-4zM679.2 186h2v8h-2zM685.2 186h4v8h-4zM696.2 186h4v4h-4zM711.2 186h3v4h-3zM718.2 186h4v7h-4zM725.2 186h3v3h-3zM659.2 187h4v4h-4zM678.2 187h1v7h-1zM781.2 188h3v5h-3zM766.2 189h2v12h-2zM677.2 190h1v4h-1zM689.2 190h3v4h-3zM769.2 190h1v11h-1zM645.2 191h7v4h-7zM656.2 191h3v4h-3zM667.2 191h10v3h-10zM718.2 193h3v1h-3zM770.2 193h3v4h-3zM777.2 193h4v8h-4zM667.2 194h7v1h-7zM692.2 194h8v4h-8zM711.2 194h3v8h-3zM645.2 195h3v1h-3zM663.2 195h4v12h-4zM635.2 196h1v4h-1zM714.2 196h1v6h-1zM755.2 196h4v1h-4zM704.2 197h3v1h-3zM718.2 197h4v4h-4zM674.2 198h19v4h-19zM700.2 198h4v4h-4zM715.2 198h3v7h-3zM656.2 199h7v4h-7zM667.2 199h3v4h-3zM670.2 200h1v2h-1zM726.2 201h3v8h-3zM770.2 201h7v4h-7zM671.2 202h3v8h-3zM689.2 202h4v4h-4zM704.2 202h3v8h-3zM649.2 203h3v4h-3zM660.2 203h3v4h-3zM722.2 205h4v4h-4zM752.2 205h3v16h-3zM762.2 205h4v1h-4zM774.2 205h11v4h-11zM668.2 206h3v4h-3zM674.2 206h8v6h-8zM700.2 206h4v4h-4zM763.2 206h3v3h-3zM635.2 207h1v4h-1zM638.2 207h3v4h-3zM645.2 207h4v8h-4zM656.2 207h4v8h-4zM667.2 207h1v3h-1zM748.2 209h4v4h-4zM649.2 211h3v8h-3zM660.2 211h7v3h-7zM675.2 212h7v2h-7zM652.2 213h1v6h-1zM708.2 213h3v4h-3zM722.2 213h8v4h-8zM759.2 213h4v12h-4zM766.2 213h8v4h-8zM777.2 213h4v3h-4zM660.2 214h5v1h-5zM682.2 214h4v4h-4zM638.2 215h4v4h-4zM776.2 216h1v8h-1zM781.2 216h4v4h-4zM715.2 217h7v4h-7zM770.2 217h6v3h-6zM667.2 218h8v8h-8zM678.2 218h4v7h-4zM774.2 220h2v4h-2zM777.2 220h4v4h-4zM763.2 221h3v7h-3zM664.2 222h3v4h-3zM682.2 222h4v4h-4zM766.2 222h1v6h-1zM767.2 224h3v8h-3zM781.2 224h4v4h-4zM679.2 225h3v5h-3zM752.2 225h4v15h-4zM789.2 228h3v4h-3zM800.2 228h1v4h-1zM668.2 230h7v4h-7zM682.2 230h8v4h-8zM642.2 231h4v4h-4zM756.2 232h3v12h-3zM770.2 232h8v5h-8zM781.2 232h8v4h-8zM668.2 234h3v12h-3zM686.2 234h7v3h-7zM785.2 236h4v8h-4zM792.2 236h4v1h-4zM671.2 237h1v9h-1zM686.2 237h6v1h-6zM759.2 237h1v7h-1zM771.2 237h7v7h-7zM793.2 237h3v11h-3zM679.2 238h4v4h-4zM686.2 238h4v7h-4zM639.2 239h3v4h-3zM760.2 240h3v8h-3zM767.2 240h4v4h-4zM778.2 240h4v4h-4zM796.2 240h4v8h-4zM672.2 242h3v12h-3zM683.2 242h3v4h-3zM774.2 244h4v4h-4zM789.2 244h4v8h-4zM686.2 245h2v1h-2zM675.2 246h8v4h-8zM635.2 247h1v4h-1zM642.2 247h4v2h-4zM763.2 248h4v5h-4zM643.2 249h3v2h-3zM686.2 249h4v1h-4zM697.2 249h4v1h-4zM675.2 250h1v4h-1zM687.2 250h3v3h-3zM698.2 250h3v3h-3zM639.2 251h4v4h-4zM778.2 252h4v12h-4zM796.2 252h5v2h-5zM701.2 253h4v4h-4zM764.2 253h3v3h-3zM797.2 254h4v2h-4zM756.2 256h4v4h-4zM771.2 256h7v4h-7zM782.2 256h4v4h-4zM797.2 256h3v4h-3zM681.2 257h13v4h-13zM705.2 257h4v4h-4zM712.2 257h4v4h-4zM676.2 258h5v3h-5zM635.2 259h1v4h-1zM639.2 259h4v11h-4zM753.2 260h3v8h-3zM760.2 260h7v4h-7zM793.2 260h4v4h-4zM676.2 261h3v1h-3zM687.2 261h7v4h-7zM756.2 264h8v4h-8zM800.2 264h1v4h-1zM677.2 265h3v12h-3zM694.2 265h11v4h-11zM713.2 265h3v4h-3zM643.2 266h4v8h-4zM676.2 266h1v11h-1zM722.2 268h2v4h-2zM760.2 268h4v8h-4zM775.2 268h3v4h-3zM786.2 268h7v4h-7zM675.2 269h1v4h-1zM687.2 269h7v4h-7zM705.2 269h4v4h-4zM720.2 269h2v3h-2zM778.2 269h1v3h-1zM639.2 270h1v1h-1zM665.2 270h10v3h-10zM639.2 272h1v2h-1zM757.2 272h3v4h-3zM768.2 272h3v4h-3zM779.2 272h7v4h-7zM793.2 272h4v4h-4zM665.2 273h8v1h-8zM683.2 273h4v3h-4zM702.2 273h3v4h-3zM640.2 274h3v4h-3zM635.2 275h1v4h-1zM684.2 276h3v1h-3zM716.2 276h8v1h-8zM654.2 278h4v1h-4z"/><path fill="#f6f0f0" d="M676.2 128h4v3h-4zM639.2 129h4v3h-4zM636.2 132h3v4h-3zM636.2 144h3v1h-3zM755.2 145h3v1h-3zM758.2 149h7v1h-7zM732.2 150h4v4h-4zM747.2 150h3v4h-3zM761.2 150h4v3h-4zM739.2 154h4v8h-4zM640.2 164h4v4h-4zM773.2 165h3v4h-3zM706.2 166h4v4h-4zM717.2 166h8v2h-8zM732.2 166h4v4h-4zM648.2 168h3v7h-3zM718.2 168h7v2h-7zM695.2 170h12v1h-12zM736.2 170h4v3h-4zM655.2 171h4v4h-4zM696.2 171h11v3h-11zM736.2 173h2v1h-2zM743.2 173h4v4h-4zM791.2 173h4v4h-4zM703.2 174h4v4h-4zM662.2 175h8v1h-8zM637.2 176h3v4h-3zM663.2 176h7v3h-7zM773.2 177h4v8h-4zM692.2 178h4v4h-4zM640.2 179h1v1h-1zM648.2 179h4v4h-4zM677.2 179h4v4h-4zM696.2 182h3v4h-3zM710.2 182h4v1h-4zM718.2 182h11v3h-11zM652.2 183h3v12h-3zM711.2 183h3v3h-3zM699.2 184h1v2h-1zM718.2 185h10v1h-10zM769.2 185h4v4h-4zM784.2 185h1v12h-1zM700.2 186h3v8h-3zM643.2 187h1v4h-1zM655.2 187h4v4h-4zM663.2 187h3v8h-3zM635.2 188h1v4h-1zM641.2 188h2v3h-2zM666.2 188h1v7h-1zM758.2 189h1v2h-1zM644.2 190h1v1h-1zM681.2 190h4v8h-4zM696.2 190h4v4h-4zM714.2 190h4v6h-4zM655.2 191h1v4h-1zM659.2 191h4v4h-4zM637.2 192h4v3h-4zM721.2 193h1v4h-1zM773.2 193h4v4h-4zM678.2 194h3v4h-3zM718.2 194h3v3h-3zM637.2 195h2v1h-2zM670.2 195h4v3h-4zM715.2 196h3v2h-3zM765.2 197h1v4h-1zM770.2 197h3v4h-3zM670.2 198h2v1h-2zM648.2 199h4v3h-4zM635.2 200h1v4h-1zM766.2 201h4v4h-4zM649.2 202h3v1h-3zM685.2 202h4v4h-4zM700.2 202h4v4h-4zM707.2 202h4v4h-4zM656.2 203h4v4h-4zM715.2 205h3v8h-3zM759.2 205h3v8h-3zM682.2 206h3v8h-3zM762.2 206h1v7h-1zM652.2 207h4v4h-4zM774.2 209h3v4h-3zM781.2 209h4v7h-4zM718.2 210h1v3h-1zM685.2 212h1v2h-1zM719.2 213h3v4h-3zM763.2 213h3v4h-3zM667.2 214h4v4h-4zM675.2 214h7v4h-7zM777.2 216h4v4h-4zM708.2 217h3v4h-3zM675.2 218h3v4h-3zM635.2 219h1v8h-1zM638.2 219h4v8h-4zM766.2 221h4v1h-4zM767.2 222h3v2h-3zM770.2 224h4v4h-4zM778.2 224h3v4h-3zM759.2 225h4v7h-4zM664.2 226h4v4h-4zM671.2 226h4v4h-4zM682.2 226h4v4h-4zM642.2 227h4v4h-4zM763.2 228h4v4h-4zM796.2 228h4v4h-4zM635.2 231h1v4h-1zM792.2 232h4v4h-4zM671.2 234h4v3h-4zM763.2 236h4v8h-4zM781.2 236h4v1h-4zM800.2 236h1v4h-1zM672.2 237h3v1h-3zM782.2 237h3v11h-3zM675.2 242h4v4h-4zM694.2 245h3v4h-3zM683.2 246h3v4h-3zM767.2 248h4v16h-4zM778.2 248h4v4h-4zM679.2 250h4v7h-4zM760.2 252h3v8h-3zM763.2 253h1v7h-1zM786.2 256h3v4h-3zM793.2 256h4v4h-4zM800.2 256h1v4h-1zM679.2 257h2v1h-2zM694.2 257h4v8h-4zM771.2 260h4v4h-4zM797.2 260h3v4h-3zM635.2 263h1v12h-1zM778.2 264h4v4h-4zM789.2 264h4v4h-4zM687.2 265h7v4h-7zM720.2 265h4v3h-4zM672.2 266h4v3h-4zM720.2 268h2v1h-2zM757.2 268h3v4h-3zM800.2 268h1v3h-1zM672.2 269h3v1h-3zM683.2 269h4v4h-4zM698.2 269h7v4h-7zM713.2 269h7v3h-7zM713.2 272h6v1h-6zM753.2 272h4v4h-4zM764.2 272h4v4h-4zM771.2 272h4v4h-4zM680.2 273h3v4h-3zM687.2 273h7v4h-7zM665.2 274h4v3h-4zM683.2 276h1v1h-1zM694.2 276h1v1h-1z"/><path fill="#f6f0ed" d="M680.2 131h2v4h-2zM687.2 131h4v4h-4zM683.2 134h1v1h-1zM658.2 163h8v1h-8zM659.2 164h7v3h-7zM681.2 167h3v8h-3zM684.2 173h1v2h-1zM674.2 175h3v4h-3zM683.2 178h2v4h-2zM681.2 179h2v3h-2zM666.2 187h4v1h-4zM667.2 188h3v3h-3zM672.2 198h2v4h-2zM670.2 199h2v1h-2zM671.2 200h1v2h-1zM653.2 215h3v4h-3zM663.2 218h1v4h-1zM642.2 219h7v4h-7zM660.2 219h3v3h-3zM660.2 222h1v1h-1zM642.2 223h3v4h-3zM645.2 225h1v2h-1zM642.2 235h4v4h-4zM664.2 242h4v4h-4zM668.2 246h4v4h-4zM665.2 250h3v4h-3zM635.2 255h1v4h-1zM639.2 255h7v3h-7zM639.2 258h6v1h-6z"/><path fill="#f0eae4" d="M691.2 131h3v8h-3zM694.2 132h1v7h-1zM680.2 139h7v4h-7zM673.2 159h4v4h-4zM659.2 226h1v4h-1zM649.2 227h4v4h-4zM657.2 227h2v3h-2zM646.2 231h3v4h-3zM661.2 238h3v8h-3zM646.2 239h4v11h-4zM646.2 250h2v1h-2zM650.2 258h7v4h-7zM657.2 261h1v1h-1z"/><path fill="#e1d8cc" d="M698.2 131h4v4h-4zM745.2 252h4v4h-4z"/><path fill="#eae4db" d="M706.2 131h3v4h-3zM698.2 135h4v4h-4zM691.2 139h4v4h-4zM655.2 234h5v4h-5zM653.2 235h2v3h-2zM660.2 237h1v1h-1zM650.2 246h3v4h-3zM653.2 249h1v1h-1zM657.2 250h4v4h-4zM654.2 254h3v4h-3z"/><path fill="#f0ede7" d="M680.2 135h2v4h-2zM683.2 135h4v4h-4zM670.2 163h3v4h-3zM677.2 167h4v4h-4zM664.2 238h4v4h-4zM642.2 243h4v4h-4zM646.2 254h4v7h-4zM647.2 261h3v1h-3z"/><path fill="#f3ede7" d="M687.2 135h4v4h-4zM677.2 159h3v8h-3zM680.2 161h1v6h-1zM673.2 163h4v4h-4zM653.2 223h7v3h-7zM653.2 226h6v1h-6zM660.2 230h4v4h-4zM661.2 250h4v4h-4z"/><path fill="#ede7e1" d="M695.2 135h3v4h-3zM687.2 139h4v4h-4zM726.2 217h4v4h-4zM653.2 227h4v4h-4zM657.2 230h3v4h-3zM649.2 231h4v4h-4zM749.2 244h3v4h-3zM648.2 250h2v4h-2zM646.2 251h2v3h-2zM753.2 252h3v4h-3zM650.2 254h4v4h-4zM657.2 254h4v4h-4zM749.2 260h4v4h-4z"/><path fill="#f0edea" d="M665.2 139h8v1h-8zM750.2 150h4v4h-4zM758.2 150h3v3h-3zM673.2 171h4v3h-4zM674.2 174h3v1h-3zM734.2 177h2v4h-2zM732.2 178h2v2h-2zM733.2 180h1v1h-1zM744.2 181h3v4h-3zM755.2 189h3v4h-3zM758.2 191h1v2h-1zM693.2 202h3v4h-3zM726.2 209h4v4h-4zM685.2 210h4v2h-4zM686.2 212h3v2h-3zM656.2 219h4v4h-4zM661.2 222h3v4h-3zM660.2 223h1v3h-1zM741.2 241h4v3h-4zM741.2 244h1v1h-1zM672.2 262h4v4h-4z"/><path fill="#ede4db" d="M695.2 139h3v4h-3z"/><path fill="#f3eded" d="M750.2 146h4v4h-4zM747.2 169h4v4h-4zM687.2 170h1v4h-1zM684.2 171h3v2h-3zM685.2 173h2v1h-2zM738.2 173h2v4h-2zM736.2 174h2v3h-2zM747.2 177h4v4h-4zM725.2 178h4v4h-4zM670.2 179h4v4h-4zM674.2 183h7v3h-7zM674.2 186h5v1h-5zM722.2 186h3v3h-3zM722.2 189h2v1h-2zM765.2 189h1v4h-1zM748.2 193h3v4h-3zM704.2 210h4v3h-4zM704.2 213h3v1h-3zM635.2 235h1v4h-1zM750.2 236h2v4h-2zM638.2 237h1v2h-1zM749.2 237h1v3h-1zM683.2 238h3v4h-3zM756.2 244h4v4h-4zM694.2 249h3v8h-3zM668.2 250h4v4h-4zM697.2 250h1v7h-1zM687.2 253h7v4h-7zM701.2 257h4v4h-4zM698.2 261h3v4h-3zM701.2 264h1v1h-1zM716.2 265h4v4h-4zM647.2 266h3v4h-3zM709.2 269h4v4h-4zM662.2 274h3v3h-3z"/><path fill="#f0eded" d="M754.2 146h4v4h-4zM762.2 169h3v4h-3zM766.2 175h3v6h-3zM747.2 181h4v8h-4zM725.2 189h4v6h-4zM744.2 193h4v8h-4zM726.2 195h3v6h-3zM685.2 206h4v4h-4zM700.2 210h4v8h-4zM711.2 213h4v8h-4zM730.2 213h3v4h-3zM705.2 217h3v4h-3zM704.2 218h1v3h-1zM752.2 221h3v4h-3zM755.2 222h1v3h-1zM694.2 237h3v4h-3zM690.2 245h4v4h-4zM697.2 245h4v4h-4zM705.2 249h3v8h-3zM712.2 249h7v4h-7zM708.2 251h1v6h-1zM719.2 251h1v2h-1zM709.2 253h7v4h-7zM668.2 254h4v4h-4zM676.2 254h3v4h-3zM709.2 257h3v4h-3zM716.2 257h7v4h-7zM720.2 261h3v4h-3zM669.2 266h3v4h-3zM724.2 272h3v4h-3zM640.2 278h3v1h-3z"/><path fill="#ededea" d="M754.2 150h4v4h-4zM725.2 264h2v8h-2zM724.2 265h1v7h-1z"/><path fill="#edeaea" d="M758.2 153h3v4h-3zM750.2 154h4v3h-4zM750.2 157h3v1h-3zM731.2 181h2v4h-2zM729.2 182h2v3h-2zM719.2 221h3v4h-3zM722.2 223h1v2h-1zM690.2 226h3v4h-3zM748.2 233h4v3h-4zM748.2 236h2v1h-2zM745.2 237h4v3h-4zM745.2 240h1v1h-1zM697.2 241h4v4h-4zM708.2 249h4v2h-4zM709.2 251h3v2h-3zM716.2 253h4v4h-4zM672.2 254h4v8h-4zM669.2 262h3v4h-3zM749.2 268h4v4h-4zM727.2 276h4v1h-4z"/><path fill="#e1e1e1" d="M754.2 154h4v3h-4zM758.2 165h4v4h-4zM741.2 209h3v4h-3zM737.2 221h4v4h-4zM730.2 225h4v4h-4zM738.2 260h4v4h-4zM658.2 262h3v4h-3z"/><path fill="#e7e7e7" d="M753.2 157h1v4h-1zM750.2 158h3v3h-3zM762.2 173h3v4h-3zM765.2 175h1v2h-1zM751.2 177h4v4h-4zM733.2 181h3v4h-3zM740.2 181h4v4h-4zM740.2 197h4v8h-4zM744.2 209h4v4h-4zM708.2 225h4v4h-4zM723.2 253h4v4h-4zM668.2 258h4v4h-4zM727.2 272h4v4h-4zM746.2 272h3v4h-3zM643.2 278h4v1h-4z"/><path fill="#dbdbde" d="M754.2 157h4v4h-4zM754.2 173h4v3h-4zM755.2 176h3v1h-3zM758.2 177h4v4h-4zM755.2 185h3v4h-3zM693.2 214h4v4h-4zM702.2 221h2v4h-2zM700.2 222h2v2h-2zM701.2 224h1v1h-1zM734.2 229h3v4h-3zM731.2 272h7v4h-7zM647.2 274h4v4h-4z"/><path fill="#e7e4e4" d="M758.2 157h3v4h-3zM761.2 160h1v1h-1zM751.2 173h3v4h-3zM754.2 176h1v1h-1zM689.2 210h4v4h-4zM748.2 229h4v4h-4z"/><path fill="#e4e4e4" d="M750.2 161h4v1h-4zM758.2 161h4v4h-4zM751.2 162h3v11h-3zM758.2 169h4v8h-4zM729.2 193h4v16h-4zM733.2 213h4v4h-4zM689.2 214h4v4h-4zM737.2 217h4v4h-4zM700.2 218h4v3h-4zM700.2 221h2v1h-2zM723.2 225h3v4h-3zM734.2 225h3v4h-3zM693.2 230h4v3h-4zM693.2 233h2v1h-2zM745.2 233h3v4h-3zM665.2 258h3v4h-3zM742.2 264h3v4h-3zM665.2 266h4v4h-4zM745.2 267h1v1h-1zM647.2 278h4v1h-4z"/><path fill="#ccd2d5" d="M754.2 161h4v4h-4zM734.2 233h3v4h-3z"/><path fill="#ede7de" d="M762.2 161h3v4h-3zM650.2 250h4v4h-4z"/><path fill="#e4dbcc" d="M765.2 161h4v4h-4z"/><path fill="#f0eae1" d="M769.2 161h4v4h-4z"/><path fill="#f3f0ea" d="M681.2 163h2v4h-2zM683.2 165h1v2h-1zM670.2 167h3v4h-3zM645.2 223h4v2h-4zM646.2 225h3v2h-3zM664.2 234h4v4h-4zM642.2 239h4v4h-4zM664.2 246h4v4h-4z"/><path fill="#f3f0f0" d="M747.2 165h4v4h-4zM769.2 177h4v4h-4zM696.2 206h4v4h-4zM710.2 209h1v4h-1zM708.2 210h2v3h-2zM707.2 213h1v4h-1zM704.2 214h3v3h-3zM704.2 217h1v1h-1zM708.2 221h3v4h-3zM686.2 222h3v4h-3zM689.2 224h1v2h-1zM711.2 224h1v1h-1zM756.2 229h3v3h-3zM690.2 230h3v4h-3zM690.2 241h7v4h-7zM690.2 249h4v4h-4zM683.2 250h4v3h-4zM698.2 257h3v4h-3zM705.2 261h4v4h-4zM712.2 261h8v3h-8zM713.2 264h7v1h-7zM719.2 272h1v4h-1zM749.2 272h4v4h-4zM705.2 273h4v4h-4zM716.2 273h3v3h-3zM724.2 276h3v1h-3z"/><path fill="#cfd2d8" d="M754.2 165h4v4h-4zM697.2 218h3v4h-3zM712.2 233h3v4h-3zM728.2 260h3v4h-3zM727.2 261h1v3h-1z"/><path fill="#d2d5d8" d="M754.2 169h4v4h-4zM733.2 193h7v4h-7zM737.2 205h3v4h-3zM740.2 208h1v1h-1zM734.2 264h4v2h-4zM735.2 266h3v2h-3zM731.2 268h4v4h-4zM658.2 270h3v4h-3z"/><path fill="#dedee1" d="M755.2 177h3v4h-3zM737.2 209h4v4h-4zM719.2 225h4v4h-4zM737.2 225h4v4h-4zM693.2 226h4v4h-4zM738.2 264h4v4h-4zM654.2 274h4v4h-4z"/><path fill="#e1e4e4" d="M762.2 177h4v4h-4zM712.2 225h3v4h-3zM738.2 237h3v4h-3z"/><path fill="#e4e4e7" d="M736.2 181h4v4h-4zM737.2 233h4v4h-4zM697.2 237h4v4h-4zM712.2 237h7v4h-7zM723.2 237h4v8h-4zM701.2 241h7v4h-7z"/><path fill="#eaeaea" d="M729.2 185h4v4h-4zM689.2 206h4v4h-4zM696.2 210h4v1h-4zM697.2 211h3v3h-3zM733.2 217h4v4h-4zM689.2 218h4v4h-4zM695.2 233h2v4h-2zM693.2 234h2v3h-2zM719.2 245h4v4h-4zM723.2 261h4v3h-4zM723.2 264h2v1h-2zM647.2 270h3v4h-3zM650.2 273h1v1h-1z"/><path fill="#dbdee1" d="M733.2 185h3v4h-3zM704.2 229h4v4h-4zM726.2 229h4v4h-4zM697.2 233h4v4h-4zM719.2 233h4v4h-4zM705.2 237h3v4h-3zM738.2 241h3v4h-3zM742.2 268h4v4h-4zM738.2 272h4v4h-4z"/><path fill="#d5d8db" d="M736.2 185h4v8h-4zM733.2 189h3v4h-3zM737.2 197h3v4h-3zM661.2 262h4v4h-4zM727.2 264h4v4h-4zM650.2 270h4v3h-4zM651.2 273h3v5h-3z"/><path fill="#e1e1e4" d="M740.2 185h4v4h-4zM758.2 185h4v4h-4zM740.2 193h4v4h-4zM693.2 210h3v4h-3zM696.2 211h1v3h-1zM737.2 229h4v4h-4zM708.2 237h4v4h-4zM723.2 245h4v8h-4zM742.2 272h4v4h-4z"/><path fill="#eae7e7" d="M744.2 185h3v4h-3zM729.2 189h4v4h-4zM740.2 205h4v3h-4zM693.2 206h3v4h-3zM741.2 208h3v1h-3zM748.2 213h4v4h-4zM733.2 221h4v2h-4zM734.2 223h3v2h-3zM661.2 258h4v4h-4zM650.2 266h4v4h-4zM661.2 270h4v4h-4zM643.2 274h4v4h-4zM658.2 274h4v3h-4zM651.2 278h3v1h-3z"/><path fill="#e7e4e7" d="M751.2 185h4v4h-4z"/><path fill="#dbdede" d="M740.2 189h4v4h-4zM697.2 214h3v4h-3zM738.2 245h3v3h-3z"/><path fill="#cccfd5" d="M733.2 197h4v4h-4zM737.2 201h3v4h-3zM741.2 213h3v4h-3zM701.2 229h3v4h-3z"/><path fill="#c6ccd2" d="M733.2 201h4v4h-4zM715.2 229h4v4h-4zM730.2 233h4v4h-4zM734.2 260h4v4h-4zM658.2 266h3v4h-3z"/><path fill="#c9ccd2" d="M733.2 205h4v4h-4z"/><path fill="#eae7ea" d="M730.2 209h3v4h-3zM704.2 225h4v4h-4zM705.2 245h3v4h-3zM723.2 257h4v4h-4zM746.2 268h3v4h-3z"/><path fill="#d8dbde" d="M733.2 209h4v4h-4zM701.2 237h4v4h-4zM735.2 268h3v4h-3z"/><path fill="#e4e1e4" d="M737.2 213h4v4h-4z"/><path fill="#c9cfd5" d="M744.2 213h4v4h-4zM712.2 229h3v4h-3zM731.2 264h3v4h-3zM734.2 266h1v2h-1z"/><path fill="#edeae7" d="M722.2 217h4v4h-4zM730.2 217h3v4h-3zM742.2 244h3v1h-3zM749.2 264h4v4h-4z"/><path fill="#aeb7c0" d="M741.2 217h3v4h-3z"/><path fill="#a2aeba" d="M744.2 217h4v4h-4z"/><path fill="#d2d5db" d="M693.2 218h4v8h-4zM701.2 225h3v4h-3zM661.2 266h4v4h-4z"/><path fill="#ededed" d="M704.2 221h4v4h-4zM711.2 221h8v3h-8zM689.2 222h4v2h-4zM690.2 224h3v2h-3zM712.2 224h7v1h-7zM708.2 245h11v4h-11zM719.2 249h4v2h-4zM720.2 251h3v2h-3z"/><path fill="#eae7e4" d="M722.2 221h4v2h-4zM730.2 221h3v4h-3zM723.2 223h3v2h-3zM733.2 223h1v2h-1zM742.2 260h3v4h-3zM745.2 264h4v3h-4zM746.2 267h3v1h-3z"/><path fill="#e4ded2" d="M726.2 221h4v4h-4zM745.2 256h4v4h-4z"/><path fill="#96a2b1" d="M741.2 221h3v4h-3zM744.2 222h1v3h-1z"/><path fill="#8799a8" d="M744.2 221h4v1h-4zM745.2 222h3v3h-3zM730.2 249h4v2h-4zM731.2 251h3v5h-3zM731.2 256h1v1h-1z"/><path fill="#c6cfd5" d="M697.2 222h3v4h-3zM700.2 224h1v1h-1zM654.2 270h4v4h-4z"/><path fill="#c3c9d2" d="M700.2 225h1v4h-1zM697.2 226h3v3h-3zM727.2 241h3v4h-3z"/><path fill="#dee1e4" d="M715.2 225h4v4h-4zM723.2 233h3v4h-3z"/><path fill="#e4e1de" d="M726.2 225h4v4h-4z"/><path fill="#a5b1ba" d="M741.2 225h4v4h-4z"/><path fill="#dedede" d="M748.2 225h4v4h-4zM738.2 252h4v8h-4z"/><path fill="#cfd5db" d="M697.2 229h4v4h-4zM727.2 237h3v4h-3z"/><path fill="#d5d8de" d="M708.2 229h4v4h-4zM730.2 229h4v4h-4zM704.2 233h4v4h-4zM738.2 268h4v4h-4z"/><path fill="#ccd2d8" d="M719.2 229h4v4h-4z"/><path fill="#dbdbe1" d="M723.2 229h3v4h-3z"/><path fill="#c6c9cf" d="M745.2 229h3v4h-3z"/><path fill="#ede4de" d="M653.2 231h4v3h-4zM653.2 234h2v1h-2z"/><path fill="#cfd5d8" d="M701.2 233h3v4h-3z"/><path fill="#d5dbde" d="M708.2 233h4v4h-4z"/><path fill="#d2d8db" d="M715.2 233h4v4h-4z"/><path fill="#d8dbe1" d="M726.2 233h4v4h-4z"/><path fill="#ede7e4" d="M646.2 235h3v4h-3zM649.2 237h1v2h-1zM661.2 246h3v4h-3z"/><path fill="#eae1db" d="M649.2 235h4v2h-4zM650.2 237h3v2h-3z"/><path fill="#e7e7ea" d="M719.2 237h4v4h-4zM708.2 241h4v4h-4z"/><path fill="#b4bdc6" d="M730.2 237h4v4h-4zM734.2 256h4v4h-4z"/><path fill="#c0c6cf" d="M734.2 237h4v4h-4z"/><path fill="#e7ded5" d="M653.2 238h4v4h-4zM749.2 256h4v4h-4z"/><path fill="#eae1d8" d="M650.2 239h3v3h-3zM650.2 242h2v1h-2zM653.2 246h8v3h-8zM654.2 249h7v1h-7zM654.2 250h3v4h-3z"/><path fill="#eaeaed" d="M712.2 241h11v4h-11z"/><path fill="#9cabb7" d="M730.2 241h4v4h-4z"/><path fill="#aeb7c3" d="M734.2 241h4v4h-4z"/><path fill="#e7e1d5" d="M653.2 242h4v4h-4z"/><path fill="#edeaed" d="M701.2 245h4v4h-4z"/><path fill="#bdc6cc" d="M727.2 245h3v4h-3z"/><path fill="#8a9cab" d="M730.2 245h4v4h-4z"/><path fill="#a5b1bd" d="M734.2 245h4v4h-4z"/><path fill="#d8dbdb" d="M738.2 248h3v4h-3z"/><path fill="#e4dbcf" d="M745.2 248h4v4h-4zM749.2 252h4v4h-4z"/><path fill="#f0f0f0" d="M701.2 249h4v4h-4zM720.2 253h3v4h-3z"/><path fill="#b7c0c9" d="M727.2 249h3v4h-3zM730.2 251h1v2h-1z"/><path fill="#a2b1ba" d="M734.2 249h4v3h-4zM734.2 252h1v1h-1z"/><path fill="#a8b4bd" d="M735.2 252h3v4h-3zM734.2 253h1v3h-1z"/><path fill="#bac3c9" d="M727.2 253h4v4h-4z"/><path fill="#f0eaea" d="M665.2 254h3v4h-3z"/><path fill="#99a8b4" d="M732.2 256h2v4h-2zM731.2 257h1v3h-1z"/><path fill="#c3c9cf" d="M727.2 257h4v3h-4zM727.2 260h1v1h-1z"/><path fill="#b1bac6" d="M731.2 260h3v4h-3z"/><path fill="#eae4e1" d="M745.2 260h4v4h-4z"/><path fill="#e7e4e1" d="M654.2 262h4v4h-4z"/><path fill="#d8d8db" d="M665.2 262h4v4h-4zM654.2 266h4v4h-4z"/><path fill="#dee1e1" d="M727.2 268h4v4h-4z"/></g>
<path d="M790.00,154.30 L787.20,155.40 L782.70,157.10 L779.70,159.00 L776.70,162.00 L773.70,166.10 L770.70,171.00 L769.20,175.75 L766.95,180.25 L765.10,186.25 L763.20,192.25 L761.70,197.50 L760.95,200.00 L759.45,204.50 L757.60,209.75 L754.95,213.50 L753.10,218.00 L751.20,224.00 L749.30,228.00 L746.70,230.25 L744.80,232.50 L745.20,235.50 L745.95,238.50 L746.70,242.25 L746.30,246.75 L748.20,248.25 L751.20,249.40 L753.45,251.60 L754.95,253.00 L756.10,257.50 L757.60,261.25 L759.80,264.25 L760.20,269.50 L760.60,274.75 L760.60,282.00 L801.20,282.00 L801.20,219.00 L796.20,221.00 L794.70,224.00 L792.20,225.50 L789.20,225.00 L787.20,223.00 L786.70,220.00 L787.00,215.50 L788.00,213.20 L790.20,211.50 L792.00,209.50 L792.20,206.50 L790.70,204.80 L789.00,205.50 L787.80,208.60 L786.50,207.00 L786.80,204.00 L787.40,201.50 L786.70,199.50 L784.95,196.75 L783.10,193.00 L783.80,187.75 L784.95,181.75 L786.10,175.75 L786.45,173.25 L787.10,169.50 L787.95,165.75 L789.10,162.40 L790.20,159.75 L791.50,157.60 L791.90,156.00 L791.40,154.80Z" fill="#efefdb" stroke="#7f7f7f" stroke-width="1.45" stroke-linejoin="round"/>
<g stroke="#adadad" stroke-width="1.25"><line x1="636.30" y1="125.5" x2="640.70" y2="279.5"/><line x1="659.37" y1="125.5" x2="663.57" y2="279.5"/><line x1="682.44" y1="125.5" x2="686.44" y2="279.5"/><line x1="705.51" y1="125.5" x2="709.31" y2="279.5"/><line x1="728.58" y1="125.5" x2="732.18" y2="279.5"/><line x1="751.65" y1="125.5" x2="755.05" y2="279.5"/><line x1="774.72" y1="125.5" x2="777.92" y2="279.5"/><line x1="797.79" y1="125.5" x2="800.79" y2="279.5"/><polyline fill="none" points="636.2,119.56 656.2,118.95 676.2,118.42 696.2,117.95 716.2,117.55 736.2,117.22 756.2,116.96 776.2,116.77 796.2,116.64 816.2,116.59"/><polyline fill="none" points="636.2,139.30 656.2,138.69 676.2,138.16 696.2,137.69 716.2,137.29 736.2,136.96 756.2,136.70 776.2,136.51 796.2,136.38 816.2,136.33"/><polyline fill="none" points="636.2,159.04 656.2,158.43 676.2,157.90 696.2,157.43 716.2,157.03 736.2,156.70 756.2,156.44 776.2,156.25 796.2,156.12 816.2,156.07"/><polyline fill="none" points="636.2,178.78 656.2,178.17 676.2,177.64 696.2,177.17 716.2,176.77 736.2,176.44 756.2,176.18 776.2,175.99 796.2,175.86 816.2,175.81"/><polyline fill="none" points="636.2,198.52 656.2,197.91 676.2,197.38 696.2,196.91 716.2,196.51 736.2,196.18 756.2,195.92 776.2,195.73 796.2,195.60 816.2,195.55"/><polyline fill="none" points="636.2,218.26 656.2,217.65 676.2,217.12 696.2,216.65 716.2,216.25 736.2,215.92 756.2,215.66 776.2,215.47 796.2,215.34 816.2,215.29"/><polyline fill="none" points="636.2,238.00 656.2,237.39 676.2,236.86 696.2,236.39 716.2,235.99 736.2,235.66 756.2,235.40 776.2,235.21 796.2,235.08 816.2,235.03"/><polyline fill="none" points="636.2,257.74 656.2,257.13 676.2,256.60 696.2,256.13 716.2,255.73 736.2,255.40 756.2,255.14 776.2,254.95 796.2,254.82 816.2,254.77"/><polyline fill="none" points="636.2,277.48 656.2,276.87 676.2,276.34 696.2,275.87 716.2,275.47 736.2,275.14 756.2,274.88 776.2,274.69 796.2,274.56 816.2,274.51"/></g>
</g>
<rect x="635.5" y="125.5" width="162.0" height="154.0" fill="none" stroke="#000" stroke-width="1.1"/>
<text x="716.1" y="96" font-size="16.67" text-anchor="middle" >dSST/dx [K km<tspan dy="-6.6" font-size="11.67">−1</tspan><tspan dy="6.6">]</tspan></text>
<text x="636.0" y="115" font-size="13.89" text-anchor="middle" >112.5°E</text>
<text x="640.0" y="297" font-size="13.89" text-anchor="middle" >112.5°E</text>
<text x="705.4000000000001" y="115" font-size="13.89" text-anchor="middle" >113.25°E</text>
<text x="709.4000000000001" y="297" font-size="13.89" text-anchor="middle" >113.25°E</text>
<text x="774.4000000000001" y="115" font-size="13.89" text-anchor="middle" >114°E</text>
<text x="778.4000000000001" y="297" font-size="13.89" text-anchor="middle" >114°E</text>
<rect x="807.50" y="171.5" width="3.2" height="62.0" fill="url(#cb2)" stroke="#000" stroke-width="1.1"/>
<line x1="811.20" y1="171.5" x2="816.06" y2="171.5" stroke="#000" stroke-width="1.1"/>
<text x="820.3000000000001" y="176.9" font-size="13.89" text-anchor="start" >0.2</text>
<line x1="811.20" y1="202.5" x2="816.06" y2="202.5" stroke="#000" stroke-width="1.1"/>
<text x="820.3000000000001" y="207.9" font-size="13.89" text-anchor="start" >0.0</text>
<line x1="811.20" y1="233.5" x2="816.06" y2="233.5" stroke="#000" stroke-width="1.1"/>
<text x="820.3000000000001" y="238.9" font-size="13.89" text-anchor="start" >−0.2</text>
<g clip-path="url(#c3)">
<rect x="878.5" y="125.5" width="162.0" height="154.0" fill="#97b6e1"/>
<g shape-rendering="crispEdges"><path fill="#f6f0f0" d="M921.8 127h1v4h-1zM951.8 127h4v3h-4zM896.8 128h4v4h-4zM918.8 128h3v3h-3zM951.8 130h3v1h-3zM878.8 136h3v3h-3zM878.8 144h3v1h-3zM981.8 154h4v4h-4zM974.8 158h4v8h-4zM985.8 158h7v3h-7zM882.8 159h3v1h-3zM922.8 159h2v2h-2zM923.8 161h1v2h-1zM985.8 161h6v1h-6zM971.8 162h3v3h-3zM985.8 162h4v3h-4zM904.8 163h4v8h-4zM912.8 163h3v4h-3zM985.8 165h2v1h-2zM934.8 166h3v4h-3zM1018.8 169h8v4h-8zM929.8 170h1v4h-1zM941.8 170h4v4h-4zM919.8 171h10v3h-10zM1011.8 173h8v4h-8zM919.8 174h8v1h-8zM930.8 174h4v4h-4zM938.8 174h3v4h-3zM890.8 175h3v4h-3zM901.8 175h3v8h-3zM908.8 175h4v4h-4zM923.8 175h4v7h-4zM879.8 176h3v8h-3zM904.8 176h1v7h-1zM893.8 177h1v2h-1zM1011.8 177h4v4h-4zM1019.8 177h3v4h-3zM927.8 178h3v4h-3zM941.8 178h4v6h-4zM952.8 178h4v5h-4zM882.8 179h1v5h-1zM894.8 179h3v4h-3zM905.8 179h3v4h-3zM912.8 179h4v4h-4zM1008.8 181h3v4h-3zM1015.8 181h4v8h-4zM1022.8 181h4v4h-4zM916.8 183h3v8h-3zM953.8 183h3v7h-3zM942.8 184h3v2h-3zM931.8 186h3v4h-3zM945.8 186h4v4h-4zM901.8 187h4v8h-4zM919.8 187h1v3h-1zM877.8 188h1v8h-1zM879.8 188h4v4h-4zM1008.8 189h3v4h-3zM923.8 190h4v4h-4zM934.8 190h8v4h-8zM956.8 190h4v6h-4zM1011.8 190h1v3h-1zM883.8 191h4v1h-4zM890.8 191h11v4h-11zM886.8 192h1v3h-1zM1026.8 193h1v4h-1zM916.8 194h4v4h-4zM938.8 194h4v4h-4zM894.8 195h4v4h-4zM905.8 195h4v8h-4zM957.8 196h3v2h-3zM1007.8 201h1v4h-1zM887.8 203h4v4h-4zM1012.8 205h11v4h-11zM994.8 209h3v8h-3zM1012.8 209h4v4h-4zM1008.8 213h4v11h-4zM1012.8 217h4v3h-4zM931.8 218h4v6h-4zM1019.8 220h4v1h-4zM994.8 221h7v4h-7zM1005.8 221h3v11h-3zM1020.8 221h3v3h-3zM920.8 222h4v3h-4zM935.8 222h4v4h-4zM932.8 224h3v2h-3zM1008.8 224h1v8h-1zM1012.8 224h4v4h-4zM921.8 225h3v1h-3zM1020.8 228h3v4h-3zM932.8 230h3v4h-3zM928.8 234h4v4h-4zM1005.8 236h4v4h-4zM1031.8 236h3v4h-3zM1042.8 236h1v4h-1zM936.8 237h3v4h-3zM1034.8 237h1v3h-1zM925.8 238h3v4h-3zM998.8 240h4v4h-4zM1009.8 240h4v4h-4zM1027.8 240h4v4h-4zM939.8 241h4v4h-4zM1031.8 244h4v4h-4zM890.8 250h2v4h-2zM888.8 251h2v3h-2zM885.8 255h3v3h-3zM1035.8 256h4v4h-4zM885.8 258h2v1h-2zM995.8 260h3v4h-3zM1002.8 260h4v8h-4zM1042.8 260h1v4h-1zM1006.8 264h3v4h-3zM1024.8 264h4v4h-4zM991.8 268h4v4h-4zM999.8 268h3v4h-3zM1028.8 268h3v8h-3zM1035.8 268h7v4h-7zM917.8 269h1v4h-1zM929.8 269h4v4h-4zM951.8 269h4v4h-4zM914.8 270h3v3h-3zM1031.8 270h1v6h-1zM1042.8 271h1v1h-1zM977.8 272h11v4h-11zM995.8 272h4v4h-4zM1035.8 272h4v4h-4zM914.8 273h1v1h-1zM922.8 273h3v4h-3zM947.8 273h4v4h-4zM904.8 274h3v3h-3zM925.8 276h1v1h-1zM896.8 278h4v1h-4z"/><path fill="#f3f0ed" d="M922.8 127h2v8h-2zM929.8 127h4v4h-4zM944.8 127h3v4h-3zM884.8 128h1v8h-1zM888.8 128h4v2h-4zM900.8 128h3v4h-3zM914.8 128h4v3h-4zM878.8 129h6v7h-6zM889.8 130h3v2h-3zM885.8 132h3v7h-3zM896.8 132h4v3h-4zM925.8 134h1v1h-1zM878.8 140h3v4h-3zM996.8 149h4v1h-4zM992.8 150h4v7h-4zM974.8 154h7v4h-7zM985.8 154h4v4h-4zM992.8 157h3v1h-3zM963.8 158h3v4h-3zM971.8 158h3v4h-3zM878.8 159h4v1h-4zM904.8 159h4v4h-4zM915.8 159h4v8h-4zM981.8 162h4v2h-4zM919.8 163h4v4h-4zM926.8 163h4v7h-4zM933.8 163h1v7h-1zM982.8 164h3v5h-3zM987.8 165h2v8h-2zM993.8 165h3v4h-3zM1015.8 165h3v4h-3zM1022.8 165h4v4h-4zM974.8 166h8v4h-8zM985.8 166h2v7h-2zM897.8 167h7v4h-7zM912.8 167h3v4h-3zM923.8 167h3v4h-3zM937.8 167h4v7h-4zM982.8 169h1v1h-1zM996.8 169h8v4h-8zM1011.8 169h4v4h-4zM1026.8 169h1v12h-1zM926.8 170h3v1h-3zM934.8 170h3v4h-3zM897.8 171h4v4h-4zM908.8 171h4v4h-4zM915.8 171h4v3h-4zM916.8 174h3v5h-3zM941.8 174h8v4h-8zM904.8 175h4v1h-4zM912.8 175h4v4h-4zM882.8 176h8v3h-8zM905.8 176h3v3h-3zM930.8 178h4v8h-4zM956.8 178h4v4h-4zM883.8 179h11v1h-11zM897.8 179h4v8h-4zM908.8 179h4v4h-4zM919.8 179h4v4h-4zM886.8 180h8v10h-8zM1011.8 181h4v4h-4zM927.8 182h3v12h-3zM938.8 182h3v4h-3zM945.8 182h7v4h-7zM894.8 183h3v8h-3zM905.8 183h3v12h-3zM912.8 183h4v4h-4zM952.8 183h1v3h-1zM877.8 184h2v4h-2zM883.8 184h3v3h-3zM941.8 184h1v2h-1zM930.8 186h1v8h-1zM934.8 186h4v4h-4zM960.8 186h4v4h-4zM883.8 187h2v1h-2zM908.8 187h4v4h-4zM897.8 189h1v2h-1zM1011.8 189h8v1h-8zM1023.8 189h4v4h-4zM887.8 190h7v1h-7zM919.8 190h1v4h-1zM1012.8 190h7v7h-7zM908.8 191h1v4h-1zM912.8 191h7v3h-7zM963.8 193h1v4h-1zM1007.8 193h1v4h-1zM912.8 194h4v4h-4zM920.8 194h3v4h-3zM942.8 194h3v12h-3zM949.8 194h7v4h-7zM960.8 194h3v3h-3zM887.8 195h7v4h-7zM898.8 195h7v4h-7zM909.8 195h3v11h-3zM877.8 196h1v4h-1zM956.8 196h1v2h-1zM945.8 197h1v9h-1zM975.8 197h4v4h-4zM1012.8 197h3v8h-3zM1023.8 197h3v15h-3zM912.8 198h2v1h-2zM916.8 198h4v8h-4zM938.8 198h4v4h-4zM949.8 198h4v8h-4zM957.8 198h3v3h-3zM887.8 199h3v4h-3zM901.8 199h4v2h-4zM912.8 200h1v6h-1zM902.8 201h3v6h-3zM968.8 201h3v8h-3zM1008.8 201h4v12h-4zM1015.8 201h8v4h-8zM890.8 202h1v1h-1zM913.8 202h3v4h-3zM920.8 202h4v8h-4zM931.8 202h7v4h-7zM886.8 203h1v4h-1zM891.8 203h7v4h-7zM1026.8 204h1v8h-1zM971.8 205h4v4h-4zM994.8 205h3v4h-3zM1004.8 205h4v1h-4zM909.8 206h1v1h-1zM927.8 206h4v4h-4zM1005.8 206h3v7h-3zM891.8 207h3v4h-3zM905.8 207h4v7h-4zM1001.8 209h4v8h-4zM1019.8 209h4v7h-4zM909.8 210h4v4h-4zM924.8 210h3v4h-3zM877.8 211h1v4h-1zM887.8 211h4v4h-4zM902.8 211h3v4h-3zM880.8 212h3v3h-3zM927.8 212h1v2h-1zM1023.8 212h2v1h-2zM883.8 214h1v1h-1zM905.8 214h2v1h-2zM1023.8 216h4v4h-4zM1005.8 217h3v4h-3zM920.8 218h4v4h-4zM928.8 218h3v4h-3zM1012.8 220h4v4h-4zM944.8 221h2v4h-2zM1001.8 221h4v7h-4zM939.8 222h5v3h-5zM1016.8 224h4v4h-4zM1023.8 224h4v4h-4zM939.8 225h3v1h-3zM932.8 226h7v4h-7zM1009.8 228h7v12h-7zM1027.8 228h4v12h-4zM1034.8 228h8v4h-8zM998.8 232h7v4h-7zM1016.8 232h11v4h-11zM1031.8 232h3v4h-3zM1042.8 232h1v4h-1zM943.8 233h3v4h-3zM917.8 234h11v4h-11zM992.8 236h2v8h-2zM1038.8 236h4v4h-4zM991.8 237h1v7h-1zM921.8 238h4v4h-4zM1002.8 240h3v4h-3zM1035.8 240h3v8h-3zM910.8 242h4v4h-4zM917.8 242h4v4h-4zM925.8 242h7v3h-7zM998.8 244h4v4h-4zM1024.8 244h7v8h-7zM1038.8 244h4v4h-4zM925.8 245h5v1h-5zM892.8 246h3v4h-3zM1031.8 248h4v4h-4zM1042.8 248h1v4h-1zM895.8 249h1v1h-1zM903.8 250h4v4h-4zM877.8 251h1v8h-1zM880.8 251h1v4h-1zM1038.8 252h4v2h-4zM1039.8 254h3v2h-3zM1009.8 256h4v8h-4zM1017.8 256h7v4h-7zM877.8 260h1v3h-1zM987.8 260h4v4h-4zM1013.8 260h7v4h-7zM1024.8 260h7v4h-7zM1035.8 260h7v8h-7zM969.8 264h4v12h-4zM984.8 264h3v8h-3zM995.8 264h3v4h-3zM1020.8 264h4v8h-4zM1042.8 264h1v4h-1zM944.8 265h3v4h-3zM951.8 265h7v4h-7zM877.8 267h1v4h-1zM987.8 267h1v5h-1zM964.8 268h5v4h-5zM973.8 268h4v4h-4zM980.8 268h4v4h-4zM988.8 268h3v8h-3zM1010.8 268h10v4h-10zM1024.8 268h4v8h-4zM918.8 269h4v8h-4zM933.8 269h3v4h-3zM940.8 269h4v4h-4zM947.8 269h4v4h-4zM962.8 269h2v8h-2zM882.8 270h3v4h-3zM911.8 270h3v4h-3zM881.8 271h1v7h-1zM961.8 272h1v5h-1zM964.8 272h2v5h-2zM1002.8 272h11v4h-11zM1039.8 272h4v4h-4zM915.8 273h3v4h-3zM925.8 273h4v3h-4zM936.8 273h4v3h-4zM951.8 273h10v4h-10zM914.8 274h1v1h-1zM877.8 275h1v4h-1zM926.8 276h3v1h-3zM937.8 276h3v1h-3zM929.8 277h4v2h-4z"/><path fill="#f3edea" d="M925.8 127h4v4h-4zM933.8 127h3v4h-3zM940.8 127h4v4h-4zM926.8 135h3v4h-3zM940.8 135h4v4h-4zM877.8 165h1v3h-1zM878.8 167h1v1h-1zM879.8 168h14v3h-14zM879.8 171h12v1h-12zM975.8 205h4v4h-4zM986.8 205h4v4h-4z"/><path fill="#f3f0ea" d="M936.8 127h4v4h-4zM878.8 160h4v4h-4z"/><path fill="#f6f3f0" d="M948.8 127h3v4h-3zM885.8 128h3v4h-3zM895.8 128h1v7h-1zM910.8 128h4v7h-4zM888.8 130h1v2h-1zM914.8 131h4v4h-4zM918.8 135h6v4h-6zM925.8 135h1v8h-1zM881.8 136h4v3h-4zM926.8 139h3v4h-3zM993.8 149h3v1h-3zM988.8 150h4v4h-4zM963.8 154h3v4h-3zM971.8 154h3v4h-3zM978.8 158h7v4h-7zM908.8 159h3v12h-3zM919.8 159h3v4h-3zM922.8 161h1v2h-1zM991.8 161h1v4h-1zM1011.8 161h6v4h-6zM963.8 162h3v4h-3zM978.8 162h3v4h-3zM989.8 162h2v3h-2zM992.8 162h1v3h-1zM911.8 163h1v8h-1zM923.8 163h1v4h-1zM934.8 163h3v3h-3zM981.8 164h1v2h-1zM924.8 165h2v2h-2zM966.8 165h1v1h-1zM1018.8 165h4v4h-4zM1026.8 165h1v4h-1zM915.8 167h8v4h-8zM1015.8 169h3v4h-3zM933.8 170h1v4h-1zM945.8 170h4v4h-4zM891.8 171h6v4h-6zM901.8 171h7v4h-7zM912.8 171h3v4h-3zM930.8 171h3v3h-3zM877.8 172h9v4h-9zM890.8 172h1v3h-1zM1019.8 173h7v4h-7zM915.8 174h1v1h-1zM927.8 174h3v4h-3zM934.8 174h4v12h-4zM893.8 175h8v2h-8zM919.8 175h4v4h-4zM877.8 176h2v8h-2zM894.8 177h7v2h-7zM1015.8 177h4v4h-4zM1022.8 177h4v4h-4zM938.8 178h3v4h-3zM945.8 178h4v4h-4zM916.8 179h3v4h-3zM883.8 180h3v4h-3zM1019.8 181h3v20h-3zM1026.8 181h1v8h-1zM923.8 182h4v8h-4zM956.8 182h4v8h-4zM901.8 183h4v4h-4zM908.8 183h4v4h-4zM919.8 183h4v4h-4zM879.8 184h4v4h-4zM1008.8 185h7v4h-7zM1022.8 185h4v4h-4zM938.8 186h7v4h-7zM949.8 186h4v8h-4zM885.8 187h1v4h-1zM897.8 187h4v2h-4zM912.8 187h4v4h-4zM920.8 187h3v7h-3zM883.8 188h2v3h-2zM898.8 189h3v2h-3zM1022.8 189h1v12h-1zM886.8 190h1v1h-1zM931.8 190h3v12h-3zM942.8 190h7v4h-7zM953.8 190h3v4h-3zM960.8 190h4v3h-4zM887.8 191h3v4h-3zM909.8 191h3v4h-3zM960.8 193h3v1h-3zM1008.8 193h4v8h-4zM1023.8 193h3v4h-3zM923.8 194h8v8h-8zM934.8 194h4v8h-4zM945.8 194h4v3h-4zM886.8 195h1v4h-1zM946.8 197h3v5h-3zM960.8 197h4v8h-4zM1007.8 197h1v4h-1zM1015.8 197h4v4h-4zM1026.8 197h1v7h-1zM914.8 198h2v4h-2zM920.8 198h3v4h-3zM953.8 198h4v7h-4zM890.8 199h11v3h-11zM912.8 199h2v1h-2zM877.8 200h1v11h-1zM913.8 200h1v2h-1zM901.8 201h1v6h-1zM957.8 201h3v4h-3zM964.8 201h4v4h-4zM971.8 201h4v4h-4zM891.8 202h10v1h-10zM924.8 202h7v4h-7zM898.8 203h3v4h-3zM905.8 203h4v4h-4zM953.8 205h2v1h-2zM997.8 205h7v4h-7zM913.8 206h7v4h-7zM1004.8 206h1v3h-1zM886.8 207h1v4h-1zM883.8 208h3v3h-3zM997.8 209h4v8h-4zM1016.8 209h3v15h-3zM1025.8 212h2v4h-2zM1005.8 213h3v4h-3zM1012.8 213h4v4h-4zM1023.8 213h2v3h-2zM1019.8 216h4v4h-4zM1001.8 217h4v4h-4zM917.8 218h3v4h-3zM935.8 218h4v4h-4zM1023.8 220h4v4h-4zM1019.8 221h1v3h-1zM928.8 222h3v12h-3zM931.8 224h1v10h-1zM1009.8 224h3v4h-3zM1020.8 224h3v4h-3zM998.8 225h3v7h-3zM924.8 226h4v4h-4zM1016.8 228h4v4h-4zM1023.8 228h4v4h-4zM1031.8 228h3v4h-3zM1042.8 228h1v4h-1zM1005.8 232h4v4h-4zM1034.8 232h8v4h-8zM932.8 234h3v7h-3zM1001.8 236h4v1h-4zM1016.8 236h11v8h-11zM1034.8 236h4v1h-4zM935.8 237h1v4h-1zM1002.8 237h3v3h-3zM1035.8 237h3v3h-3zM928.8 238h4v4h-4zM1013.8 240h3v4h-3zM1031.8 240h4v4h-4zM1038.8 240h5v4h-5zM936.8 241h3v4h-3zM921.8 242h4v4h-4zM1020.8 244h4v4h-4zM1042.8 244h1v4h-1zM877.8 247h1v4h-1zM880.8 247h1v4h-1zM1035.8 248h7v4h-7zM881.8 251h7v4h-7zM1035.8 252h3v4h-3zM1042.8 252h1v8h-1zM1038.8 254h1v2h-1zM1028.8 256h7v4h-7zM1039.8 256h3v4h-3zM1006.8 260h3v4h-3zM1020.8 260h4v4h-4zM1031.8 260h4v10h-4zM987.8 264h8v3h-8zM998.8 264h4v4h-4zM1009.8 264h11v4h-11zM1028.8 264h3v4h-3zM947.8 265h4v4h-4zM958.8 265h8v3h-8zM988.8 267h7v1h-7zM958.8 268h6v1h-6zM977.8 268h3v4h-3zM995.8 268h4v4h-4zM1002.8 268h8v4h-8zM1042.8 268h1v3h-1zM922.8 269h7v4h-7zM936.8 269h4v4h-4zM944.8 269h3v8h-3zM955.8 269h3v4h-3zM1032.8 270h3v6h-3zM877.8 271h1v4h-1zM966.8 272h3v5h-3zM973.8 272h4v4h-4zM991.8 272h4v4h-4zM999.8 272h3v4h-3zM1013.8 272h11v4h-11zM929.8 273h7v4h-7zM940.8 273h4v4h-4zM907.8 274h7v3h-7zM914.8 275h1v2h-1zM936.8 276h1v1h-1zM969.8 276h4v1h-4zM927.8 277h2v2h-2zM881.8 278h1v1h-1z"/><path fill="#f3eded" d="M954.8 130h1v1h-1zM918.8 131h4v4h-4zM989.8 165h4v4h-4zM949.8 178h3v4h-3zM964.8 193h3v8h-3zM967.8 195h1v6h-1zM968.8 197h3v4h-3zM886.8 199h1v4h-1zM975.8 201h11v4h-11zM938.8 202h4v4h-4zM946.8 202h3v4h-3zM902.8 207h3v4h-3zM913.8 210h7v4h-7zM917.8 214h3v4h-3zM928.8 214h3v4h-3zM997.8 217h4v4h-4zM924.8 218h4v4h-4zM1001.8 228h4v4h-4zM937.8 233h2v4h-2zM935.8 234h2v3h-2zM994.8 236h4v4h-4zM939.8 237h4v4h-4zM1005.8 240h4v4h-4zM906.8 246h4v4h-4zM1027.8 252h8v2h-8zM1028.8 254h7v2h-7zM881.8 255h4v4h-4zM991.8 260h4v4h-4zM998.8 260h4v4h-4z"/><path fill="#edeae4" d="M925.8 131h4v3h-4zM926.8 134h3v1h-3z"/><path fill="#ede7e1" d="M929.8 131h4v4h-4zM937.8 135h3v4h-3zM878.8 164h4v3h-4zM879.8 167h3v1h-3zM976.8 264h8v2h-8zM977.8 266h7v2h-7z"/><path fill="#eae4de" d="M933.8 131h3v4h-3zM936.8 132h1v3h-1zM889.8 164h4v2h-4zM890.8 166h3v2h-3zM979.8 209h4v4h-4z"/><path fill="#eae4db" d="M936.8 131h4v1h-4zM937.8 132h3v3h-3zM882.8 164h4v4h-4zM983.8 209h3v4h-3zM939.8 229h4v4h-4zM980.8 260h4v4h-4z"/><path fill="#f0eae4" d="M940.8 131h4v4h-4zM893.8 164h3v3h-3z"/><path fill="#f0ede7" d="M944.8 131h3v4h-3zM893.8 167h4v4h-4z"/><path fill="#f0eae7" d="M929.8 135h8v4h-8zM882.8 160h3v4h-3zM979.8 205h7v4h-7z"/><path fill="#f0eded" d="M1000.8 149h3v1h-3zM1000.8 165h4v4h-4zM1014.8 165h1v4h-1zM963.8 166h4v4h-4zM983.8 169h2v4h-2zM993.8 169h3v4h-3zM982.8 170h1v3h-1zM996.8 173h8v3h-8zM952.8 174h8v4h-8zM997.8 176h7v1h-7zM1004.8 177h3v4h-3zM963.8 178h8v3h-8zM964.8 181h7v1h-7zM964.8 182h3v4h-3zM967.8 189h4v6h-4zM1007.8 189h1v4h-1zM968.8 195h3v2h-3zM971.8 197h4v4h-4zM979.8 197h3v4h-3zM955.8 205h2v4h-2zM960.8 205h4v4h-4zM924.8 206h3v4h-3zM931.8 206h4v4h-4zM953.8 206h2v3h-2zM898.8 207h4v8h-4zM972.8 209h3v4h-3zM883.8 211h4v3h-4zM894.8 211h4v2h-4zM895.8 213h3v6h-3zM884.8 214h3v5h-3zM909.8 214h4v8h-4zM880.8 215h4v4h-4zM947.8 217h3v12h-3zM994.8 217h3v4h-3zM913.8 218h4v8h-4zM942.8 218h5v3h-5zM942.8 221h2v1h-2zM946.8 221h1v8h-1zM950.8 221h3v4h-3zM917.8 222h3v4h-3zM953.8 224h1v1h-1zM920.8 225h1v1h-1zM994.8 225h4v4h-4zM921.8 226h3v8h-3zM913.8 230h4v7h-4zM996.8 232h2v4h-2zM946.8 233h4v4h-4zM994.8 233h2v3h-2zM914.8 237h3v13h-3zM947.8 237h7v4h-7zM910.8 238h4v4h-4zM943.8 241h7v4h-7zM894.8 242h1v4h-1zM881.8 243h3v4h-3zM892.8 243h2v3h-2zM989.8 244h2v4h-2zM994.8 244h4v4h-4zM1005.8 244h4v4h-4zM930.8 245h2v4h-2zM936.8 245h3v4h-3zM987.8 245h2v3h-2zM903.8 246h3v4h-3zM910.8 246h4v4h-4zM925.8 246h5v3h-5zM1013.8 248h7v8h-7zM925.8 249h3v1h-3zM892.8 250h4v8h-4zM899.8 250h4v4h-4zM907.8 250h3v4h-3zM1024.8 252h3v4h-3zM1027.8 254h1v2h-1zM1006.8 256h3v4h-3zM1013.8 256h4v4h-4zM881.8 259h4v4h-4zM984.8 260h3v4h-3zM940.8 265h4v4h-4zM883.8 266h2v4h-2zM881.8 267h2v3h-2zM881.8 270h1v1h-1zM903.8 270h8v4h-8z"/><path fill="#eae7e7" d="M996.8 150h4v4h-4zM996.8 161h4v4h-4zM974.8 174h4v3h-4zM974.8 177h2v1h-2zM1010.8 177h1v4h-1zM971.8 178h3v3h-3zM974.8 180h1v1h-1zM971.8 181h2v1h-2zM1004.8 181h4v4h-4zM971.8 189h4v4h-4zM975.8 193h3v4h-3zM978.8 194h1v3h-1zM938.8 206h4v4h-4zM964.8 209h4v4h-4zM990.8 213h4v4h-4zM990.8 229h4v4h-4zM954.8 237h4v4h-4zM972.8 241h4v4h-4zM950.8 245h4v4h-4zM896.8 254h3v4h-3zM888.8 258h4v3h-4zM973.8 260h3v4h-3zM889.8 261h3v1h-3z"/><path fill="#e4e4e4" d="M1000.8 150h3v3h-3zM1007.8 161h4v4h-4zM989.8 177h4v4h-4zM1000.8 177h4v4h-4zM993.8 181h3v4h-3zM996.8 189h1v4h-1zM986.8 193h3v4h-3zM979.8 213h4v4h-4zM990.8 217h4v4h-4zM990.8 225h4v4h-4zM969.8 237h3v4h-3zM994.8 248h4v4h-4zM918.8 250h3v4h-3zM987.8 256h4v4h-4zM892.8 258h4v4h-4zM947.8 261h4v4h-4zM907.8 266h7v4h-7z"/><path fill="#d2d5d8" d="M1000.8 153h3v4h-3zM1000.8 181h4v4h-4zM949.8 213h4v4h-4zM946.8 214h3v3h-3zM946.8 217h1v1h-1zM939.8 249h4v1h-4zM940.8 250h3v3h-3zM910.8 254h4v4h-4z"/><path fill="#dbdede" d="M1003.8 153h4v4h-4zM985.8 177h4v1h-4zM986.8 178h3v3h-3zM980.8 248h3v4h-3zM940.8 261h3v4h-3zM943.8 264h1v1h-1z"/><path fill="#f3f0f0" d="M989.8 154h3v4h-3zM992.8 161h4v1h-4zM993.8 162h3v3h-3zM989.8 169h4v4h-4zM949.8 170h3v8h-3zM960.8 182h4v4h-4zM964.8 186h3v7h-3zM986.8 201h3v4h-3zM964.8 205h4v4h-4zM910.8 206h3v4h-3zM887.8 207h4v4h-4zM894.8 207h4v4h-4zM909.8 207h1v3h-1zM920.8 210h4v8h-4zM891.8 211h3v4h-3zM894.8 213h1v2h-1zM907.8 214h2v4h-2zM913.8 214h4v4h-4zM924.8 214h4v4h-4zM902.8 215h5v3h-5zM902.8 218h3v1h-3zM924.8 222h4v4h-4zM917.8 226h4v8h-4zM994.8 229h4v3h-4zM924.8 230h4v4h-4zM994.8 232h2v1h-2zM998.8 236h3v4h-3zM943.8 237h4v4h-4zM1001.8 237h1v3h-1zM917.8 238h4v4h-4zM989.8 240h2v4h-2zM994.8 240h4v4h-4zM932.8 241h4v4h-4zM903.8 242h3v4h-3zM877.8 243h1v4h-1zM880.8 243h1v4h-1zM884.8 243h8v7h-8zM1002.8 244h3v4h-3zM1013.8 244h7v4h-7zM895.8 246h8v3h-8zM917.8 246h8v4h-8zM881.8 247h3v4h-3zM896.8 249h7v1h-7zM884.8 250h6v1h-6zM896.8 250h3v4h-3zM1020.8 252h4v4h-4zM1024.8 256h4v4h-4zM877.8 259h1v1h-1zM967.8 264h2v4h-2zM966.8 265h1v3h-1zM958.8 269h4v3h-4zM958.8 272h3v1h-3zM900.8 274h4v3h-4zM893.8 278h3v1h-3z"/><path fill="#e1e1e4" d="M996.8 154h4v3h-4zM1000.8 161h4v4h-4zM1007.8 173h4v2h-4zM1008.8 175h3v2h-3zM975.8 189h3v4h-3zM982.8 193h4v4h-4zM972.8 213h3v4h-3zM957.8 229h4v4h-4zM965.8 233h7v4h-7zM983.8 237h4v4h-4zM976.8 241h4v4h-4zM987.8 248h4v1h-4zM998.8 252h4v4h-4zM984.8 256h3v4h-3zM943.8 261h4v3h-4zM944.8 264h3v1h-3z"/><path fill="#edeaea" d="M995.8 157h1v4h-1zM992.8 158h3v3h-3zM1004.8 165h3v8h-3zM952.8 170h4v4h-4zM974.8 170h8v3h-8zM974.8 173h6v1h-6zM989.8 173h7v4h-7zM996.8 176h1v1h-1zM970.8 185h1v4h-1zM967.8 186h3v3h-3zM982.8 197h4v4h-4zM946.8 206h3v4h-3zM968.8 209h4v4h-4zM887.8 215h8v4h-8zM950.8 217h3v4h-3zM906.8 218h3v4h-3zM950.8 233h4v4h-4zM910.8 234h3v4h-3zM913.8 237h1v1h-1zM987.8 237h4v1h-4zM989.8 238h2v2h-2zM984.8 244h3v4h-3zM939.8 245h11v4h-11zM983.8 245h1v3h-1zM914.8 250h4v4h-4zM998.8 256h4v4h-4zM887.8 258h1v4h-1zM885.8 259h2v3h-2zM970.8 260h3v4h-3zM888.8 261h1v1h-1zM954.8 261h8v3h-8zM965.8 261h5v3h-5zM881.8 263h4v3h-4zM955.8 264h7v1h-7zM965.8 264h2v1h-2zM925.8 265h4v4h-4zM933.8 265h3v4h-3zM881.8 266h2v1h-2z"/><path fill="#dedee1" d="M996.8 157h4v4h-4zM1003.8 157h4v3h-4zM1004.8 160h3v1h-3zM957.8 213h4v4h-4zM968.8 213h4v4h-4zM925.8 250h4v3h-4z"/><path fill="#d2d5db" d="M1000.8 157h3v4h-3zM1003.8 160h1v1h-1zM1007.8 165h3v4h-3zM936.8 249h3v4h-3zM943.8 249h7v4h-7zM939.8 250h1v3h-1zM950.8 251h1v2h-1zM932.8 261h4v2h-4zM933.8 263h3v2h-3zM896.8 270h4v4h-4z"/><path fill="#e4e4e7" d="M1004.8 161h3v4h-3zM954.8 225h3v4h-3zM895.8 227h4v4h-4zM961.8 233h4v4h-4zM900.8 270h3v4h-3zM893.8 274h3v4h-3z"/><path fill="#ede7de" d="M886.8 164h3v4h-3zM889.8 166h1v2h-1zM942.8 225h1v4h-1zM939.8 226h3v3h-3z"/><path fill="#f0edea" d="M996.8 165h4v4h-4zM877.8 168h2v4h-2zM960.8 178h3v4h-3zM963.8 181h1v1h-1zM971.8 193h4v4h-4zM986.8 197h3v4h-3zM957.8 205h3v4h-3zM877.8 215h1v4h-1zM939.8 218h3v4h-3zM935.8 230h4v3h-4zM935.8 233h2v1h-2zM939.8 233h4v4h-4zM950.8 241h4v4h-4zM991.8 244h3v4h-3zM1009.8 244h4v4h-4zM932.8 245h4v4h-4zM1020.8 248h4v4h-4zM888.8 254h4v4h-4zM877.8 263h1v4h-1zM973.8 264h3v4h-3zM936.8 265h4v4h-4zM976.8 266h1v2h-1zM882.8 278h11v1h-11z"/><path fill="#e7ded2" d="M1033.8 165h4v4h-4z"/><path fill="#ccd2d5" d="M1007.8 169h4v4h-4zM952.8 209h1v4h-1zM950.8 210h2v3h-2zM929.8 261h3v4h-3zM932.8 263h1v2h-1z"/><path fill="#e1d8c9" d="M1033.8 169h4v4h-4z"/><path fill="#eaeaea" d="M956.8 170h4v4h-4zM963.8 174h4v4h-4zM967.8 177h7v1h-7zM993.8 177h3v4h-3zM953.8 217h4v4h-4zM880.8 219h11v4h-11zM895.8 219h7v4h-7zM903.8 222h3v4h-3zM877.8 223h1v4h-1zM880.8 223h4v4h-4zM898.8 223h5v2h-5zM899.8 225h4v1h-4zM950.8 225h4v8h-4zM899.8 226h2v1h-2zM906.8 226h4v4h-4zM877.8 231h1v4h-1zM987.8 233h3v4h-3zM888.8 235h3v4h-3zM891.8 237h1v2h-1zM983.8 241h4v3h-4zM983.8 244h1v1h-1zM980.8 245h3v3h-3zM1009.8 248h4v8h-4zM910.8 250h4v4h-4zM1005.8 252h4v1h-4zM1006.8 253h3v3h-3zM962.8 261h3v4h-3zM885.8 262h4v4h-4zM919.8 265h6v4h-6zM918.8 266h1v3h-1zM885.8 270h4v8h-4z"/><path fill="#e7e7e7" d="M960.8 170h3v4h-3zM980.8 173h2v4h-2zM985.8 173h4v4h-4zM978.8 174h2v3h-2zM973.8 181h2v4h-2zM971.8 182h2v3h-2zM1007.8 185h1v4h-1zM942.8 206h4v4h-4zM960.8 209h4v1h-4zM961.8 210h3v3h-3zM975.8 213h4v4h-4zM953.8 221h4v3h-4zM954.8 224h3v1h-3zM972.8 245h8v4h-8zM998.8 248h4v4h-4zM1005.8 248h4v4h-4zM899.8 254h4v4h-4zM995.8 256h3v4h-3zM951.8 261h3v4h-3zM954.8 264h1v1h-1zM914.8 266h4v3h-4zM914.8 269h3v1h-3z"/><path fill="#e7e7ea" d="M963.8 170h4v4h-4zM884.8 223h3v8h-3zM887.8 225h1v6h-1zM902.8 226h4v8h-4zM888.8 227h7v4h-7zM954.8 229h3v8h-3zM880.8 231h4v4h-4zM957.8 233h4v4h-4zM897.8 234h5v4h-5zM884.8 235h4v4h-4zM891.8 235h6v2h-6zM892.8 237h5v1h-5zM902.8 237h1v1h-1zM892.8 238h3v1h-3zM991.8 256h4v4h-4z"/><path fill="#f6f0ed" d="M886.8 172h4v4h-4z"/><path fill="#e7e4e4" d="M982.8 173h3v2h-3zM931.8 210h4v4h-4zM965.8 245h4v4h-4z"/><path fill="#edeae7" d="M1004.8 173h3v4h-3zM1007.8 175h1v2h-1zM975.8 209h4v4h-4z"/><path fill="#e7decf" d="M1033.8 173h4v4h-4z"/><path fill="#ededed" d="M960.8 174h3v4h-3zM898.8 215h4v4h-4zM905.8 218h1v4h-1zM902.8 219h3v3h-3zM902.8 222h1v1h-1zM906.8 222h7v4h-7zM910.8 226h7v4h-7zM877.8 227h1v4h-1zM906.8 230h7v4h-7zM906.8 234h4v8h-4zM880.8 235h4v2h-4zM881.8 237h3v2h-3zM895.8 238h4v4h-4zM903.8 238h3v4h-3zM884.8 239h4v4h-4zM892.8 239h3v3h-3zM892.8 242h2v1h-2zM899.8 242h4v4h-4zM1002.8 256h4v4h-4zM885.8 266h4v4h-4z"/><path fill="#e1e1e1" d="M976.8 177h2v4h-2zM974.8 178h2v2h-2zM975.8 180h1v1h-1zM957.8 209h3v4h-3zM960.8 210h1v3h-1zM991.8 248h3v1h-3zM993.8 249h1v3h-1zM921.8 250h4v4h-4zM889.8 262h3v4h-3zM889.8 274h4v4h-4z"/><path fill="#dbdbde" d="M978.8 177h4v4h-4zM985.8 178h1v3h-1zM935.8 210h3v4h-3zM938.8 211h1v3h-1zM961.8 213h3v4h-3zM939.8 214h3v4h-3zM957.8 217h4v4h-4zM969.8 249h7v4h-7zM896.8 258h3v4h-3zM899.8 261h1v1h-1z"/><path fill="#eae1d8" d="M1033.8 177h4v3h-4z"/><path fill="#dbdee1" d="M975.8 181h3v4h-3zM953.8 209h4v4h-4zM964.8 213h4v4h-4zM957.8 225h4v4h-4zM961.8 229h4v4h-4zM928.8 249h4v1h-4zM929.8 250h3v3h-3zM974.8 256h2v4h-2zM973.8 257h1v3h-1z"/><path fill="#cfd2d8" d="M978.8 181h4v4h-4zM986.8 181h3v4h-3zM1000.8 185h4v4h-4zM950.8 249h4v2h-4zM951.8 251h3v2h-3zM977.8 252h3v4h-3zM965.8 253h4v4h-4zM976.8 253h1v3h-1z"/><path fill="#c9cfd5" d="M985.8 181h1v4h-1zM942.8 210h4v4h-4zM972.8 217h7v4h-7zM961.8 225h4v4h-4zM954.8 253h8v4h-8zM947.8 257h4v4h-4zM892.8 266h4v4h-4z"/><path fill="#d8dbde" d="M989.8 181h4v4h-4zM978.8 189h4v4h-4zM986.8 189h3v4h-3zM993.8 221h1v4h-1zM987.8 231h3v2h-3zM958.8 249h11v4h-11zM991.8 252h4v4h-4zM907.8 254h3v4h-3zM965.8 257h8v3h-8zM965.8 260h5v1h-5zM903.8 266h4v4h-4z"/><path fill="#ededea" d="M967.8 182h4v3h-4zM967.8 185h3v1h-3zM935.8 206h3v4h-3zM946.8 229h4v4h-4zM929.8 265h4v4h-4z"/><path fill="#e7e4e7" d="M971.8 185h4v4h-4zM1002.8 252h3v4h-3zM1005.8 253h1v3h-1z"/><path fill="#d8d8db" d="M975.8 185h3v4h-3z"/><path fill="#cccfd5" d="M978.8 185h11v4h-11zM962.8 253h3v4h-3zM899.8 258h4v3h-4zM900.8 261h3v1h-3zM892.8 270h4v3h-4zM893.8 273h3v1h-3z"/><path fill="#d5d8de" d="M982.8 189h4v4h-4zM983.8 233h4v4h-4zM954.8 249h4v4h-4zM889.8 270h3v4h-3zM892.8 273h1v1h-1z"/><path fill="#dee1e1" d="M997.8 189h3v4h-3zM980.8 241h3v4h-3zM983.8 248h4v4h-4zM903.8 254h4v4h-4zM889.8 266h3v4h-3z"/><path fill="#e4e1e4" d="M978.8 193h4v1h-4zM979.8 194h3v3h-3zM935.8 214h4v4h-4z"/><path fill="#eaeae7" d="M949.8 206h4v3h-4zM949.8 209h3v1h-3zM927.8 210h4v2h-4zM928.8 212h3v2h-3zM931.8 214h4v4h-4zM954.8 245h4v4h-4zM969.8 245h3v4h-3zM896.8 274h4v4h-4z"/><path fill="#eae7e1" d="M986.8 209h4v4h-4z"/><path fill="#cfd5d8" d="M938.8 210h4v1h-4zM939.8 211h3v3h-3zM980.8 252h4v4h-4zM954.8 257h4v4h-4z"/><path fill="#c6ccd2" d="M946.8 210h4v3h-4zM946.8 213h3v1h-3zM979.8 217h4v4h-4zM983.8 229h3v4h-3zM986.8 231h1v2h-1zM925.8 261h4v4h-4zM896.8 262h4v4h-4zM900.8 266h3v4h-3z"/><path fill="#d5d8db" d="M953.8 213h4v4h-4zM942.8 214h4v4h-4zM932.8 249h4v4h-4zM984.8 252h7v4h-7zM958.8 257h4v4h-4zM936.8 261h4v4h-4zM892.8 262h4v4h-4z"/><path fill="#d8dbdb" d="M983.8 213h7v4h-7z"/><path fill="#ccd2d8" d="M961.8 217h3v4h-3zM972.8 233h4v4h-4zM980.8 237h3v4h-3z"/><path fill="#c6ccd5" d="M964.8 217h4v4h-4zM976.8 237h4v4h-4z"/><path fill="#c3c9d2" d="M968.8 217h4v4h-4zM961.8 221h3v4h-3zM964.8 223h1v2h-1zM972.8 229h4v4h-4zM903.8 262h4v4h-4z"/><path fill="#abb7c0" d="M983.8 217h3v4h-3z"/><path fill="#aebac3" d="M986.8 217h4v4h-4z"/><path fill="#f0f0ed" d="M877.8 219h1v4h-1zM990.8 233h4v3h-4zM990.8 236h2v1h-2zM906.8 242h4v4h-4zM882.8 274h3v4h-3z"/><path fill="#eaeded" d="M891.8 219h4v4h-4zM880.8 227h4v4h-4z"/><path fill="#dbdbe1" d="M957.8 221h4v4h-4zM972.8 237h4v4h-4z"/><path fill="#bac3cc" d="M964.8 221h8v2h-8zM975.8 221h4v2h-4zM965.8 223h7v2h-7zM976.8 223h3v2h-3zM947.8 253h4v4h-4z"/><path fill="#c0c6cf" d="M972.8 221h3v4h-3zM975.8 223h1v2h-1zM907.8 258h3v4h-3zM900.8 262h3v4h-3zM914.8 262h7v3h-7zM921.8 263h1v2h-1zM914.8 265h5v1h-5z"/><path fill="#b7c3cc" d="M979.8 221h4v4h-4zM979.8 233h4v4h-4z"/><path fill="#99a8b7" d="M983.8 221h3v4h-3zM986.8 222h1v3h-1zM929.8 257h3v4h-3z"/><path fill="#9cabb7" d="M986.8 221h4v1h-4zM987.8 222h3v3h-3z"/><path fill="#eaeaed" d="M887.8 223h4v2h-4zM888.8 225h3v2h-3zM902.8 234h4v3h-4zM903.8 237h3v1h-3z"/><path fill="#e7eaea" d="M891.8 223h4v4h-4zM888.8 231h3v4h-3z"/><path fill="#e4e7e7" d="M895.8 223h3v4h-3zM898.8 225h1v2h-1zM899.8 230h3v4h-3zM884.8 231h4v4h-4z"/><path fill="#ede7e4" d="M943.8 225h3v8h-3z"/><path fill="#c3ccd2" d="M965.8 225h11v4h-11zM903.8 258h4v4h-4zM921.8 261h4v2h-4zM922.8 263h3v2h-3z"/><path fill="#b1bdc6" d="M976.8 225h7v4h-7zM943.8 253h4v4h-4z"/><path fill="#a5b4bd" d="M983.8 225h3v4h-3z"/><path fill="#e4e7ea" d="M901.8 226h1v4h-1zM899.8 227h2v3h-2zM891.8 231h4v4h-4z"/><path fill="#d5dbde" d="M965.8 229h3v4h-3z"/><path fill="#d2d8db" d="M968.8 229h4v4h-4z"/><path fill="#abb7c3" d="M976.8 229h7v4h-7z"/><path fill="#e7eaed" d="M895.8 231h4v3h-4zM895.8 234h2v1h-2z"/><path fill="#aebac6" d="M976.8 233h3v4h-3z"/><path fill="#edeaed" d="M877.8 235h1v4h-1zM880.8 237h1v2h-1zM899.8 238h4v4h-4zM888.8 239h4v4h-4z"/><path fill="#eae7e4" d="M958.8 237h3v4h-3z"/><path fill="#eae4e1" d="M961.8 237h4v4h-4zM954.8 241h4v4h-4z"/><path fill="#e7e4e1" d="M965.8 237h4v4h-4zM969.8 241h3v4h-3zM958.8 245h7v4h-7z"/><path fill="#f0f0f0" d="M877.8 239h1v4h-1zM880.8 239h4v4h-4zM895.8 242h4v4h-4z"/><path fill="#e7e1d8" d="M958.8 241h3v4h-3zM976.8 260h4v4h-4z"/><path fill="#e4dbcf" d="M961.8 241h4v4h-4z"/><path fill="#e7ded5" d="M965.8 241h4v4h-4z"/><path fill="#eae7ea" d="M1002.8 248h3v4h-3z"/><path fill="#dee1e4" d="M976.8 249h4v3h-4zM976.8 252h1v1h-1zM995.8 252h3v4h-3z"/><path fill="#a8b4c0" d="M925.8 253h7v4h-7zM936.8 253h4v8h-4zM914.8 258h4v4h-4z"/><path fill="#a2aebd" d="M932.8 253h4v4h-4z"/><path fill="#a8b7c0" d="M940.8 253h3v4h-3z"/><path fill="#c0c9cf" d="M951.8 253h3v4h-3zM943.8 257h4v4h-4z"/><path fill="#cfd5db" d="M969.8 253h7v3h-7zM969.8 256h5v1h-5zM951.8 257h3v4h-3z"/><path fill="#c3c9cf" d="M914.8 254h4v4h-4zM907.8 262h7v4h-7z"/><path fill="#bdc6cf" d="M918.8 254h3v4h-3z"/><path fill="#b4bdc6" d="M921.8 254h4v3h-4zM921.8 257h2v1h-2z"/><path fill="#dededb" d="M976.8 256h4v4h-4z"/><path fill="#e1e1de" d="M980.8 256h4v4h-4z"/><path fill="#99abba" d="M923.8 257h2v4h-2zM921.8 258h2v3h-2z"/><path fill="#96a5b4" d="M925.8 257h4v4h-4z"/><path fill="#a2b1bd" d="M932.8 257h4v4h-4z"/><path fill="#b7c0c9" d="M940.8 257h3v4h-3z"/><path fill="#d8dbe1" d="M962.8 257h3v4h-3z"/><path fill="#b4bdc9" d="M910.8 258h4v4h-4z"/><path fill="#9faeba" d="M918.8 258h3v4h-3z"/><path fill="#bdc3cc" d="M896.8 266h4v4h-4z"/></g>
<path d="M1032.60,154.30 L1029.80,155.40 L1025.30,157.10 L1022.30,159.00 L1019.30,162.00 L1016.30,166.10 L1013.30,171.00 L1011.80,175.75 L1009.55,180.25 L1007.70,186.25 L1005.80,192.25 L1004.30,197.50 L1003.55,200.00 L1002.05,204.50 L1000.20,209.75 L997.55,213.50 L995.70,218.00 L993.80,224.00 L991.90,228.00 L989.30,230.25 L987.40,232.50 L987.80,235.50 L988.55,238.50 L989.30,242.25 L988.90,246.75 L990.80,248.25 L993.80,249.40 L996.05,251.60 L997.55,253.00 L998.70,257.50 L1000.20,261.25 L1002.40,264.25 L1002.80,269.50 L1003.20,274.75 L1003.20,282.00 L1043.80,282.00 L1043.80,219.00 L1038.80,221.00 L1037.30,224.00 L1034.80,225.50 L1031.80,225.00 L1029.80,223.00 L1029.30,220.00 L1029.60,215.50 L1030.60,213.20 L1032.80,211.50 L1034.60,209.50 L1034.80,206.50 L1033.30,204.80 L1031.60,205.50 L1030.40,208.60 L1029.10,207.00 L1029.40,204.00 L1030.00,201.50 L1029.30,199.50 L1027.55,196.75 L1025.70,193.00 L1026.40,187.75 L1027.55,181.75 L1028.70,175.75 L1029.05,173.25 L1029.70,169.50 L1030.55,165.75 L1031.70,162.40 L1032.80,159.75 L1034.10,157.60 L1034.50,156.00 L1034.00,154.80Z" fill="#efefdb" stroke="#7f7f7f" stroke-width="1.45" stroke-linejoin="round"/>
<g stroke="#adadad" stroke-width="1.25"><line x1="878.90" y1="125.5" x2="883.30" y2="279.5"/><line x1="901.97" y1="125.5" x2="906.17" y2="279.5"/><line x1="925.04" y1="125.5" x2="929.04" y2="279.5"/><line x1="948.11" y1="125.5" x2="951.91" y2="279.5"/><line x1="971.18" y1="125.5" x2="974.78" y2="279.5"/><line x1="994.25" y1="125.5" x2="997.65" y2="279.5"/><line x1="1017.32" y1="125.5" x2="1020.52" y2="279.5"/><line x1="1040.39" y1="125.5" x2="1043.39" y2="279.5"/><polyline fill="none" points="878.8,119.56 898.8,118.95 918.8,118.42 938.8,117.95 958.8,117.55 978.8,117.22 998.8,116.96 1018.8,116.77 1038.8,116.64 1058.8,116.59"/><polyline fill="none" points="878.8,139.30 898.8,138.69 918.8,138.16 938.8,137.69 958.8,137.29 978.8,136.96 998.8,136.70 1018.8,136.51 1038.8,136.38 1058.8,136.33"/><polyline fill="none" points="878.8,159.04 898.8,158.43 918.8,157.90 938.8,157.43 958.8,157.03 978.8,156.70 998.8,156.44 1018.8,156.25 1038.8,156.12 1058.8,156.07"/><polyline fill="none" points="878.8,178.78 898.8,178.17 918.8,177.64 938.8,177.17 958.8,176.77 978.8,176.44 998.8,176.18 1018.8,175.99 1038.8,175.86 1058.8,175.81"/><polyline fill="none" points="878.8,198.52 898.8,197.91 918.8,197.38 938.8,196.91 958.8,196.51 978.8,196.18 998.8,195.92 1018.8,195.73 1038.8,195.60 1058.8,195.55"/><polyline fill="none" points="878.8,218.26 898.8,217.65 918.8,217.12 938.8,216.65 958.8,216.25 978.8,215.92 998.8,215.66 1018.8,215.47 1038.8,215.34 1058.8,215.29"/><polyline fill="none" points="878.8,238.00 898.8,237.39 918.8,236.86 938.8,236.39 958.8,235.99 978.8,235.66 998.8,235.40 1018.8,235.21 1038.8,235.08 1058.8,235.03"/><polyline fill="none" points="878.8,257.74 898.8,257.13 918.8,256.60 938.8,256.13 958.8,255.73 978.8,255.40 998.8,255.14 1018.8,254.95 1038.8,254.82 1058.8,254.77"/><polyline fill="none" points="878.8,277.48 898.8,276.87 918.8,276.34 938.8,275.87 958.8,275.47 978.8,275.14 998.8,274.88 1018.8,274.69 1038.8,274.56 1058.8,274.51"/></g>
</g>
<rect x="878.5" y="125.5" width="162.0" height="154.0" fill="none" stroke="#000" stroke-width="1.1"/>
<text x="958.6999999999999" y="96" font-size="16.67" text-anchor="middle" >dSST/dy [K km<tspan dy="-6.6" font-size="11.67">−1</tspan><tspan dy="6.6">]</tspan></text>
<text x="878.5999999999999" y="115" font-size="13.89" text-anchor="middle" >112.5°E</text>
<text x="882.5999999999999" y="297" font-size="13.89" text-anchor="middle" >112.5°E</text>
<text x="948.0" y="115" font-size="13.89" text-anchor="middle" >113.25°E</text>
<text x="952.0" y="297" font-size="13.89" text-anchor="middle" >113.25°E</text>
<text x="1017.0" y="115" font-size="13.89" text-anchor="middle" >114°E</text>
<text x="1021.0" y="297" font-size="13.89" text-anchor="middle" >114°E</text>
<rect x="1050.90" y="171.5" width="3.2" height="62.0" fill="url(#cb3)" stroke="#000" stroke-width="1.1"/>
<line x1="1054.60" y1="171.5" x2="1058.66" y2="171.5" stroke="#000" stroke-width="1.1"/>
<text x="1062.8999999999999" y="176.9" font-size="13.89" text-anchor="start" >0.2</text>
<line x1="1054.60" y1="202.5" x2="1058.66" y2="202.5" stroke="#000" stroke-width="1.1"/>
<text x="1062.8999999999999" y="207.9" font-size="13.89" text-anchor="start" >0.0</text>
<line x1="1054.60" y1="233.5" x2="1058.66" y2="233.5" stroke="#000" stroke-width="1.1"/>
<text x="1062.8999999999999" y="238.9" font-size="13.89" text-anchor="start" >−0.2</text>
</svg>
</body></html>
